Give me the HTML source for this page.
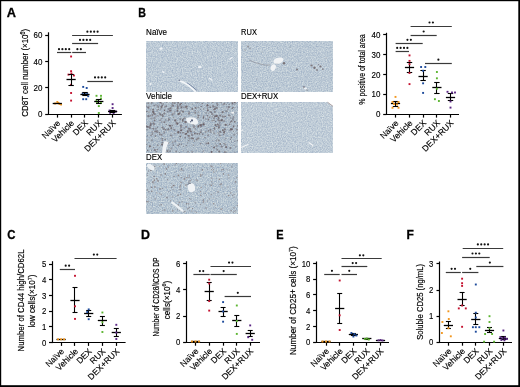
<!DOCTYPE html><html><head><meta charset="utf-8"><style>html,body{margin:0;padding:0;background:#fff;overflow:hidden}svg{display:block;will-change:transform}text{font-family:"Liberation Sans",sans-serif}</style></head><body><svg width="520" height="387" viewBox="0 0 520 387" font-family="Liberation Sans, sans-serif"><defs><filter id="tn" x="0" y="0" width="100%" height="100%" color-interpolation-filters="sRGB"><feTurbulence type="fractalNoise" baseFrequency="0.8" numOctaves="2" seed="3" result="n"/><feColorMatrix in="n" type="matrix" values="0.33 0 0 0 0.575  0.285 0 0 0 0.650  0.18 0 0 0 0.750  0 0 0 0 1" result="b0"/><feGaussianBlur in="b0" stdDeviation="0.55" result="base"/></filter><filter id="tr" x="0" y="0" width="100%" height="100%" color-interpolation-filters="sRGB"><feTurbulence type="fractalNoise" baseFrequency="0.8" numOctaves="2" seed="5" result="n"/><feColorMatrix in="n" type="matrix" values="0.33 0 0 0 0.570  0.285 0 0 0 0.645  0.18 0 0 0 0.745  0 0 0 0 1" result="b0"/><feGaussianBlur in="b0" stdDeviation="0.55" result="base"/></filter><filter id="tv" x="0" y="0" width="100%" height="100%" color-interpolation-filters="sRGB"><feTurbulence type="fractalNoise" baseFrequency="0.8" numOctaves="2" seed="7" result="n"/><feColorMatrix in="n" type="matrix" values="0.37400000000000005 0 0 0 0.498  0.323 0 0 0 0.579  0.20400000000000001 0 0 0 0.688  0 0 0 0 1" result="b0"/><feGaussianBlur in="b0" stdDeviation="0.55" result="base"/></filter><filter id="tdr" x="0" y="0" width="100%" height="100%" color-interpolation-filters="sRGB"><feTurbulence type="fractalNoise" baseFrequency="0.8" numOctaves="2" seed="9" result="n"/><feColorMatrix in="n" type="matrix" values="0.319 0 0 0 0.591  0.27549999999999997 0 0 0 0.662  0.174 0 0 0 0.758  0 0 0 0 1" result="b0"/><feGaussianBlur in="b0" stdDeviation="0.55" result="base"/></filter><filter id="td" x="0" y="0" width="100%" height="100%" color-interpolation-filters="sRGB"><feTurbulence type="fractalNoise" baseFrequency="0.8" numOctaves="2" seed="13" result="n"/><feColorMatrix in="n" type="matrix" values="0.396 0 0 0 0.517  0.34199999999999997 0 0 0 0.601  0.216 0 0 0 0.712  0 0 0 0 1" result="b0"/><feGaussianBlur in="b0" stdDeviation="0.55" result="base"/></filter></defs><rect width="520" height="387" fill="#fff"/><defs><filter id="sb" x="-50%" y="-50%" width="200%" height="200%"><feGaussianBlur stdDeviation="0.35"/></filter><filter id="sb2" x="-5%" y="-5%" width="110%" height="110%"><feGaussianBlur stdDeviation="0.45"/></filter></defs><rect x="146" y="41" width="92" height="51" fill="#b9c7d6" filter="url(#tn)"/><text x="146.1" y="35.4" font-size="8.5" text-anchor="start" font-weight="normal" fill="#000" stroke="#000" stroke-width="0.15" textLength="21" lengthAdjust="spacingAndGlyphs">Na&#239;ve</text><rect x="241" y="41" width="92" height="51" fill="#b7c5d4" filter="url(#tr)"/><text x="241.1" y="35.4" font-size="8.5" text-anchor="start" font-weight="normal" fill="#000" stroke="#000" stroke-width="0.15" textLength="15.8" lengthAdjust="spacingAndGlyphs">RUX</text><rect x="146" y="102" width="92" height="51" fill="#a4b1bf" filter="url(#tv)"/><text x="146.1" y="99.2" font-size="8.5" text-anchor="start" font-weight="normal" fill="#000" stroke="#000" stroke-width="0.15" textLength="26" lengthAdjust="spacingAndGlyphs">Vehicle</text><rect x="241" y="102" width="92" height="51" fill="#b9c8d8" filter="url(#tdr)"/><text x="241.1" y="99.2" font-size="8.5" text-anchor="start" font-weight="normal" fill="#000" stroke="#000" stroke-width="0.15" textLength="37" lengthAdjust="spacingAndGlyphs">DEX+RUX</text><rect x="146" y="163" width="92" height="51" fill="#b3c1d1" filter="url(#td)"/><text x="146.1" y="160.2" font-size="8.5" text-anchor="start" font-weight="normal" fill="#000" stroke="#000" stroke-width="0.15" textLength="16" lengthAdjust="spacingAndGlyphs">DEX</text><g fill="#eef2f6"><ellipse cx="161" cy="48.6" rx="1.6" ry="1.2" transform="rotate(0 161 48.6)"/><ellipse cx="199.8" cy="67" rx="1.8" ry="1.3" transform="rotate(0 199.8 67)"/><ellipse cx="163.3" cy="72" rx="1.4" ry="0.8" transform="rotate(30 163.3 72)"/><ellipse cx="150.5" cy="83.9" rx="1.2" ry="1" transform="rotate(0 150.5 83.9)"/><ellipse cx="231" cy="58.2" rx="2.2" ry="0.7" transform="rotate(-35 231 58.2)"/><ellipse cx="210.8" cy="79.3" rx="2.4" ry="0.7" transform="rotate(35 210.8 79.3)"/></g><path d="M187.5 83.2 Q192 86 197 90.5" fill="none" stroke="#5b6d92" stroke-width="1" opacity="0.75" filter="url(#sb)"/><path d="M179.8 80.8 Q185.5 82.8 188.8 85.6 Q192.3 88.6 195.4 91.6" fill="none" stroke="#f2f5f8" stroke-width="1.8" stroke-linecap="round"/><circle cx="179.5" cy="80.3" r="0.9" fill="#56617e" opacity="0.7" filter="url(#sb)"/><g fill="#6e6468" filter="url(#sb)"><circle cx="311.5" cy="65.5" r="1.1" opacity="0.8"/><circle cx="314.5" cy="67.8" r="1.2" opacity="0.85"/><circle cx="317" cy="70" r="0.9" opacity="0.7"/><circle cx="320.5" cy="66.5" r="1.1" opacity="0.8"/><circle cx="322.8" cy="69.2" r="0.9" opacity="0.6"/><circle cx="318.5" cy="64.5" r="0.7" opacity="0.5"/><circle cx="297" cy="69.5" r="1.0" opacity="0.75"/><circle cx="248" cy="46.5" r="0.9" opacity="0.6"/><circle cx="250" cy="48.5" r="0.8" opacity="0.5"/><circle cx="245" cy="50" r="0.7" opacity="0.5"/><circle cx="284" cy="63.2" r="1.2" opacity="0.85"/><circle cx="277" cy="63.5" r="0.8" opacity="0.6"/><circle cx="304" cy="87" r="0.9" opacity="0.7"/><circle cx="307" cy="90" r="0.7" opacity="0.6"/><circle cx="262" cy="52" r="0.5" opacity="0.5"/><circle cx="290" cy="47" r="0.5" opacity="0.5"/><circle cx="326" cy="58" r="0.5" opacity="0.4"/><circle cx="257" cy="79" r="0.5" opacity="0.4"/></g><path d="M249 60 Q255 63 262 64.5 Q266 65.5 270 65" fill="none" stroke="#7a7478" stroke-width="0.7" opacity="0.6" filter="url(#sb)"/><ellipse cx="278.4" cy="60.6" rx="5.2" ry="3.0" transform="rotate(-15 278.4 60.6)" fill="#f1f3f5"/><ellipse cx="273.2" cy="67.6" rx="2.5" ry="3.4" transform="rotate(25 273.2 67.6)" fill="#f1f3f5"/><ellipse cx="305.5" cy="88.5" rx="1.6" ry="1.1" fill="#eef1f4"/><defs><clipPath id="cv"><rect x="146" y="102" width="92" height="51"/></clipPath></defs><g fill="#62555a" filter="url(#sb2)" clip-path="url(#cv)"><circle cx="167.9" cy="129.8" r="0.87" opacity="0.58"/><circle cx="152.0" cy="102.7" r="0.63" opacity="0.41"/><circle cx="237.6" cy="126.0" r="0.78" opacity="0.59"/><circle cx="159.9" cy="134.4" r="0.82" opacity="0.63"/><circle cx="207.8" cy="105.3" r="0.86" opacity="0.44"/><circle cx="230.7" cy="122.1" r="0.76" opacity="0.72"/><circle cx="226.9" cy="107.0" r="0.60" opacity="0.73"/><circle cx="186.1" cy="134.0" r="0.81" opacity="0.47"/><circle cx="178.3" cy="131.8" r="1.08" opacity="0.61"/><circle cx="207.8" cy="110.3" r="1.13" opacity="0.71"/><circle cx="198.4" cy="138.4" r="1.03" opacity="0.56"/><circle cx="172.2" cy="105.2" r="1.14" opacity="0.34"/><circle cx="219.7" cy="122.9" r="0.66" opacity="0.65"/><circle cx="226.3" cy="104.3" r="0.48" opacity="0.62"/><circle cx="192.5" cy="152.9" r="0.50" opacity="0.57"/><circle cx="148.9" cy="112.1" r="0.88" opacity="0.37"/><circle cx="149.9" cy="146.3" r="1.12" opacity="0.70"/><circle cx="180.8" cy="125.5" r="0.90" opacity="0.57"/><circle cx="197.5" cy="133.6" r="0.80" opacity="0.49"/><circle cx="212.3" cy="114.1" r="1.13" opacity="0.53"/><circle cx="196.5" cy="102.6" r="0.86" opacity="0.31"/><circle cx="202.7" cy="134.2" r="0.89" opacity="0.51"/><circle cx="208.5" cy="120.0" r="0.97" opacity="0.31"/><circle cx="169.1" cy="125.3" r="0.67" opacity="0.46"/><circle cx="174.8" cy="120.8" r="0.66" opacity="0.47"/><circle cx="217.0" cy="103.4" r="0.96" opacity="0.44"/><circle cx="166.5" cy="143.0" r="0.58" opacity="0.50"/><circle cx="210.2" cy="107.2" r="0.68" opacity="0.68"/><circle cx="186.3" cy="145.6" r="0.69" opacity="0.59"/><circle cx="227.4" cy="125.0" r="0.53" opacity="0.54"/><circle cx="162.9" cy="116.2" r="0.90" opacity="0.66"/><circle cx="177.8" cy="108.6" r="1.01" opacity="0.42"/><circle cx="177.9" cy="123.3" r="0.74" opacity="0.71"/><circle cx="160.4" cy="102.2" r="1.07" opacity="0.74"/><circle cx="207.0" cy="128.5" r="0.69" opacity="0.40"/><circle cx="152.3" cy="132.0" r="1.02" opacity="0.32"/><circle cx="147.2" cy="140.0" r="0.66" opacity="0.60"/><circle cx="194.3" cy="123.1" r="0.88" opacity="0.45"/><circle cx="218.0" cy="119.9" r="0.82" opacity="0.67"/><circle cx="220.2" cy="144.0" r="0.89" opacity="0.69"/><circle cx="150.6" cy="115.8" r="0.82" opacity="0.49"/><circle cx="189.5" cy="141.6" r="0.49" opacity="0.36"/><circle cx="157.5" cy="105.5" r="1.05" opacity="0.34"/><circle cx="192.2" cy="118.1" r="0.70" opacity="0.59"/><circle cx="200.0" cy="120.4" r="0.68" opacity="0.36"/><circle cx="197.1" cy="138.5" r="0.51" opacity="0.38"/><circle cx="180.3" cy="132.8" r="0.72" opacity="0.66"/><circle cx="203.3" cy="124.0" r="0.80" opacity="0.62"/><circle cx="168.5" cy="129.3" r="0.50" opacity="0.49"/><circle cx="170.1" cy="125.7" r="1.02" opacity="0.60"/><circle cx="213.5" cy="130.8" r="0.86" opacity="0.30"/><circle cx="159.2" cy="141.5" r="0.51" opacity="0.34"/><circle cx="227.0" cy="111.1" r="1.04" opacity="0.35"/><circle cx="233.6" cy="131.5" r="0.48" opacity="0.65"/><circle cx="193.0" cy="138.5" r="0.97" opacity="0.72"/><circle cx="151.6" cy="118.5" r="1.03" opacity="0.41"/><circle cx="162.5" cy="114.7" r="0.98" opacity="0.48"/><circle cx="179.8" cy="122.2" r="0.74" opacity="0.34"/><circle cx="192.0" cy="151.6" r="0.97" opacity="0.37"/><circle cx="193.6" cy="126.7" r="1.08" opacity="0.37"/><circle cx="193.6" cy="124.6" r="0.58" opacity="0.42"/><circle cx="164.3" cy="131.9" r="0.61" opacity="0.61"/><circle cx="233.7" cy="117.1" r="0.74" opacity="0.68"/><circle cx="199.8" cy="115.6" r="0.47" opacity="0.52"/><circle cx="181.2" cy="110.8" r="0.68" opacity="0.65"/><circle cx="201.1" cy="125.9" r="1.03" opacity="0.55"/><circle cx="189.0" cy="113.7" r="0.95" opacity="0.60"/><circle cx="234.2" cy="145.5" r="0.58" opacity="0.42"/><circle cx="228.8" cy="115.0" r="0.67" opacity="0.49"/><circle cx="213.1" cy="106.4" r="1.03" opacity="0.43"/><circle cx="178.8" cy="131.6" r="0.45" opacity="0.45"/><circle cx="186.1" cy="126.8" r="0.86" opacity="0.73"/><circle cx="182.0" cy="129.8" r="0.64" opacity="0.60"/><circle cx="154.9" cy="150.0" r="0.99" opacity="0.64"/><circle cx="220.2" cy="115.5" r="1.12" opacity="0.60"/><circle cx="195.3" cy="107.8" r="0.70" opacity="0.62"/><circle cx="208.4" cy="130.9" r="0.90" opacity="0.58"/><circle cx="157.3" cy="149.5" r="0.68" opacity="0.62"/><circle cx="201.0" cy="130.3" r="0.77" opacity="0.44"/><circle cx="162.2" cy="105.5" r="0.98" opacity="0.54"/><circle cx="214.0" cy="120.3" r="0.72" opacity="0.69"/><circle cx="149.9" cy="127.7" r="0.99" opacity="0.46"/><circle cx="176.6" cy="122.6" r="0.99" opacity="0.46"/><circle cx="223.9" cy="107.7" r="0.52" opacity="0.35"/><circle cx="217.7" cy="139.1" r="0.58" opacity="0.49"/><circle cx="200.5" cy="109.5" r="0.59" opacity="0.54"/><circle cx="198.3" cy="112.3" r="1.00" opacity="0.31"/><circle cx="181.2" cy="130.2" r="0.89" opacity="0.74"/><circle cx="209.2" cy="117.3" r="0.79" opacity="0.57"/><circle cx="212.9" cy="102.1" r="0.91" opacity="0.52"/><circle cx="194.2" cy="125.5" r="0.82" opacity="0.32"/><circle cx="192.0" cy="134.9" r="0.85" opacity="0.73"/><circle cx="228.1" cy="108.9" r="0.89" opacity="0.32"/><circle cx="179.1" cy="113.9" r="0.83" opacity="0.72"/><circle cx="225.3" cy="124.3" r="0.79" opacity="0.35"/><circle cx="149.9" cy="106.0" r="0.56" opacity="0.52"/><circle cx="210.3" cy="129.4" r="0.90" opacity="0.44"/><circle cx="188.7" cy="140.6" r="0.58" opacity="0.70"/><circle cx="212.2" cy="120.7" r="0.82" opacity="0.57"/><circle cx="166.6" cy="102.1" r="1.00" opacity="0.36"/><circle cx="188.3" cy="112.0" r="0.57" opacity="0.48"/><circle cx="161.5" cy="103.4" r="0.57" opacity="0.52"/><circle cx="151.5" cy="103.1" r="0.74" opacity="0.62"/><circle cx="150.7" cy="122.6" r="0.47" opacity="0.73"/><circle cx="166.1" cy="106.8" r="0.57" opacity="0.58"/><circle cx="177.9" cy="108.3" r="0.96" opacity="0.42"/><circle cx="218.5" cy="125.7" r="0.66" opacity="0.41"/><circle cx="177.7" cy="106.8" r="1.13" opacity="0.57"/><circle cx="146.3" cy="103.5" r="0.57" opacity="0.32"/><circle cx="151.0" cy="135.4" r="0.59" opacity="0.74"/><circle cx="232.5" cy="103.7" r="0.87" opacity="0.73"/><circle cx="154.1" cy="117.0" r="0.53" opacity="0.48"/><circle cx="222.9" cy="130.2" r="0.70" opacity="0.49"/><circle cx="170.8" cy="110.7" r="0.87" opacity="0.62"/><circle cx="181.6" cy="126.8" r="0.95" opacity="0.31"/><circle cx="154.9" cy="114.1" r="0.90" opacity="0.70"/><circle cx="226.2" cy="124.9" r="0.96" opacity="0.45"/><circle cx="180.0" cy="105.7" r="1.12" opacity="0.35"/><circle cx="198.3" cy="107.6" r="0.90" opacity="0.41"/><circle cx="150.5" cy="109.8" r="0.86" opacity="0.31"/><circle cx="167.2" cy="151.3" r="0.84" opacity="0.49"/><circle cx="217.9" cy="132.8" r="0.82" opacity="0.38"/><circle cx="162.3" cy="106.0" r="0.53" opacity="0.31"/><circle cx="234.9" cy="112.2" r="0.51" opacity="0.51"/><circle cx="177.8" cy="132.8" r="0.53" opacity="0.68"/><circle cx="200.7" cy="143.6" r="0.83" opacity="0.51"/><circle cx="213.0" cy="105.9" r="0.79" opacity="0.33"/><circle cx="196.8" cy="139.5" r="0.90" opacity="0.57"/><circle cx="165.7" cy="119.9" r="0.68" opacity="0.49"/><circle cx="153.7" cy="113.1" r="1.10" opacity="0.63"/><circle cx="231.7" cy="129.3" r="1.11" opacity="0.71"/><circle cx="233.4" cy="126.7" r="0.73" opacity="0.75"/><circle cx="230.7" cy="116.9" r="0.58" opacity="0.34"/><circle cx="212.5" cy="117.0" r="0.90" opacity="0.32"/><circle cx="214.6" cy="116.1" r="0.69" opacity="0.63"/><circle cx="214.7" cy="116.7" r="0.66" opacity="0.48"/><circle cx="153.1" cy="109.8" r="0.94" opacity="0.74"/><circle cx="236.1" cy="146.7" r="0.56" opacity="0.44"/><circle cx="188.6" cy="128.8" r="0.70" opacity="0.68"/><circle cx="172.2" cy="125.6" r="1.01" opacity="0.43"/><circle cx="168.3" cy="143.1" r="0.54" opacity="0.54"/><circle cx="195.3" cy="110.5" r="0.59" opacity="0.65"/><circle cx="236.1" cy="103.8" r="0.46" opacity="0.49"/><circle cx="177.1" cy="104.6" r="0.52" opacity="0.44"/><circle cx="168.7" cy="142.9" r="0.63" opacity="0.32"/><circle cx="185.5" cy="134.0" r="1.09" opacity="0.66"/><circle cx="168.8" cy="108.9" r="1.00" opacity="0.53"/><circle cx="222.5" cy="130.1" r="0.57" opacity="0.31"/><circle cx="189.0" cy="135.9" r="1.02" opacity="0.57"/><circle cx="184.1" cy="128.4" r="0.58" opacity="0.61"/><circle cx="237.3" cy="129.9" r="0.70" opacity="0.50"/><circle cx="219.9" cy="125.1" r="0.56" opacity="0.44"/><circle cx="194.0" cy="123.0" r="1.03" opacity="0.72"/><circle cx="202.3" cy="103.6" r="0.83" opacity="0.52"/><circle cx="155.4" cy="136.1" r="0.81" opacity="0.70"/><circle cx="234.3" cy="134.8" r="1.09" opacity="0.38"/><circle cx="181.3" cy="144.2" r="0.64" opacity="0.73"/><circle cx="232.8" cy="118.2" r="0.65" opacity="0.36"/><circle cx="169.0" cy="152.0" r="0.61" opacity="0.39"/><circle cx="153.3" cy="128.8" r="1.04" opacity="0.58"/><circle cx="221.2" cy="102.3" r="1.12" opacity="0.33"/><circle cx="170.6" cy="126.6" r="0.83" opacity="0.32"/><circle cx="167.7" cy="150.8" r="1.08" opacity="0.38"/><circle cx="159.1" cy="104.8" r="0.57" opacity="0.39"/><circle cx="221.7" cy="146.6" r="1.12" opacity="0.54"/><circle cx="181.2" cy="107.5" r="1.14" opacity="0.43"/><circle cx="158.1" cy="109.4" r="0.70" opacity="0.71"/><circle cx="153.1" cy="111.8" r="1.15" opacity="0.74"/><circle cx="168.6" cy="120.1" r="0.79" opacity="0.62"/><circle cx="174.8" cy="103.1" r="0.97" opacity="0.65"/><circle cx="198.3" cy="125.7" r="0.76" opacity="0.54"/><circle cx="222.6" cy="112.2" r="1.10" opacity="0.68"/><circle cx="161.4" cy="115.6" r="0.49" opacity="0.74"/><circle cx="183.7" cy="146.5" r="0.46" opacity="0.69"/><circle cx="194.3" cy="141.1" r="0.83" opacity="0.50"/><circle cx="159.5" cy="132.6" r="0.80" opacity="0.47"/><circle cx="175.3" cy="120.3" r="1.14" opacity="0.72"/><circle cx="225.3" cy="144.6" r="1.13" opacity="0.42"/><circle cx="157.3" cy="127.5" r="0.69" opacity="0.59"/><circle cx="190.0" cy="129.1" r="1.14" opacity="0.54"/><circle cx="186.6" cy="133.5" r="0.75" opacity="0.68"/><circle cx="217.5" cy="105.0" r="0.72" opacity="0.74"/><circle cx="179.7" cy="112.9" r="1.07" opacity="0.49"/><circle cx="225.8" cy="138.3" r="0.66" opacity="0.53"/><circle cx="182.7" cy="121.0" r="1.06" opacity="0.56"/><circle cx="159.5" cy="113.2" r="0.88" opacity="0.36"/><circle cx="153.5" cy="118.4" r="0.47" opacity="0.54"/><circle cx="230.8" cy="129.3" r="1.03" opacity="0.68"/><circle cx="230.0" cy="124.5" r="0.53" opacity="0.70"/><circle cx="180.8" cy="126.2" r="0.65" opacity="0.39"/><circle cx="221.8" cy="132.5" r="0.47" opacity="0.46"/><circle cx="146.7" cy="144.5" r="0.64" opacity="0.47"/><circle cx="193.1" cy="124.0" r="0.91" opacity="0.50"/><circle cx="153.7" cy="124.5" r="1.14" opacity="0.33"/><circle cx="146.9" cy="126.5" r="1.08" opacity="0.67"/><circle cx="176.5" cy="123.4" r="1.07" opacity="0.39"/><circle cx="182.1" cy="106.5" r="0.47" opacity="0.72"/><circle cx="194.2" cy="131.3" r="0.61" opacity="0.51"/><circle cx="224.9" cy="129.5" r="1.14" opacity="0.60"/><circle cx="194.6" cy="112.3" r="1.08" opacity="0.36"/><circle cx="194.9" cy="133.6" r="0.99" opacity="0.71"/><circle cx="224.9" cy="139.6" r="0.49" opacity="0.49"/><circle cx="174.7" cy="111.9" r="0.60" opacity="0.67"/><circle cx="232.3" cy="108.1" r="0.73" opacity="0.40"/><circle cx="163.2" cy="103.9" r="0.72" opacity="0.68"/><circle cx="222.6" cy="104.9" r="0.72" opacity="0.38"/><circle cx="169.1" cy="115.4" r="0.69" opacity="0.35"/><circle cx="166.3" cy="124.6" r="0.62" opacity="0.61"/><circle cx="162.2" cy="140.3" r="0.83" opacity="0.57"/><circle cx="203.8" cy="124.6" r="1.00" opacity="0.69"/><circle cx="191.1" cy="131.5" r="1.08" opacity="0.61"/><circle cx="162.4" cy="138.6" r="0.96" opacity="0.56"/><circle cx="155.9" cy="128.9" r="0.78" opacity="0.54"/><circle cx="225.4" cy="124.8" r="0.86" opacity="0.67"/><circle cx="164.7" cy="106.8" r="0.84" opacity="0.44"/><circle cx="172.8" cy="102.6" r="0.96" opacity="0.46"/><circle cx="190.0" cy="130.9" r="0.94" opacity="0.55"/><circle cx="181.5" cy="107.6" r="0.67" opacity="0.63"/><circle cx="161.9" cy="122.1" r="0.74" opacity="0.56"/><circle cx="155.8" cy="104.8" r="0.59" opacity="0.53"/><circle cx="161.4" cy="107.1" r="1.10" opacity="0.69"/><circle cx="193.4" cy="122.3" r="0.64" opacity="0.44"/><circle cx="232.6" cy="108.0" r="0.78" opacity="0.50"/><circle cx="170.1" cy="151.1" r="0.85" opacity="0.53"/><circle cx="164.4" cy="113.4" r="1.00" opacity="0.63"/><circle cx="229.1" cy="107.0" r="0.98" opacity="0.40"/><circle cx="188.0" cy="151.7" r="0.98" opacity="0.37"/><circle cx="207.4" cy="115.7" r="0.71" opacity="0.69"/><circle cx="214.5" cy="127.7" r="0.75" opacity="0.66"/><circle cx="169.7" cy="129.8" r="0.72" opacity="0.32"/><circle cx="161.6" cy="134.7" r="0.98" opacity="0.53"/><circle cx="180.3" cy="104.2" r="0.97" opacity="0.71"/><circle cx="164.6" cy="110.1" r="0.97" opacity="0.52"/><circle cx="213.9" cy="109.6" r="0.92" opacity="0.57"/><circle cx="160.8" cy="109.0" r="1.07" opacity="0.36"/><circle cx="146.7" cy="106.2" r="0.72" opacity="0.51"/><circle cx="237.5" cy="133.2" r="0.94" opacity="0.30"/><circle cx="171.9" cy="137.6" r="0.47" opacity="0.53"/><circle cx="176.2" cy="151.5" r="1.01" opacity="0.47"/><circle cx="220.1" cy="124.7" r="0.68" opacity="0.40"/><circle cx="187.6" cy="142.8" r="0.61" opacity="0.49"/><circle cx="154.8" cy="118.1" r="0.83" opacity="0.57"/><circle cx="172.7" cy="103.3" r="0.69" opacity="0.39"/><circle cx="198.3" cy="115.5" r="0.87" opacity="0.60"/><circle cx="213.7" cy="128.6" r="0.67" opacity="0.33"/><circle cx="219.1" cy="127.5" r="1.10" opacity="0.56"/><circle cx="203.4" cy="124.4" r="1.15" opacity="0.38"/><circle cx="179.7" cy="153.0" r="0.80" opacity="0.52"/><circle cx="168.8" cy="149.2" r="0.46" opacity="0.51"/><circle cx="229.3" cy="104.4" r="0.66" opacity="0.51"/><circle cx="173.6" cy="117.6" r="0.89" opacity="0.34"/><circle cx="234.7" cy="104.2" r="0.58" opacity="0.34"/><circle cx="214.5" cy="129.1" r="0.81" opacity="0.58"/><circle cx="234.5" cy="102.3" r="0.92" opacity="0.72"/><circle cx="182.0" cy="125.7" r="0.47" opacity="0.44"/><circle cx="213.9" cy="115.2" r="0.63" opacity="0.46"/><circle cx="189.9" cy="112.3" r="0.49" opacity="0.41"/><circle cx="199.8" cy="133.2" r="0.58" opacity="0.34"/><circle cx="162.4" cy="127.6" r="1.07" opacity="0.55"/><circle cx="177.3" cy="124.0" r="0.96" opacity="0.64"/><circle cx="179.5" cy="139.0" r="0.60" opacity="0.40"/><circle cx="164.1" cy="132.9" r="0.96" opacity="0.35"/><circle cx="216.5" cy="126.4" r="0.80" opacity="0.49"/><circle cx="164.4" cy="122.1" r="0.95" opacity="0.71"/><circle cx="211.6" cy="152.0" r="0.99" opacity="0.70"/><circle cx="157.2" cy="132.3" r="0.66" opacity="0.68"/><circle cx="229.4" cy="124.2" r="0.60" opacity="0.67"/><circle cx="184.8" cy="118.1" r="1.10" opacity="0.41"/><circle cx="147.7" cy="150.4" r="0.72" opacity="0.74"/><circle cx="171.9" cy="106.4" r="0.62" opacity="0.40"/><circle cx="232.3" cy="113.7" r="0.68" opacity="0.44"/><circle cx="165.9" cy="129.7" r="0.73" opacity="0.53"/><circle cx="215.3" cy="143.8" r="0.63" opacity="0.39"/><circle cx="230.1" cy="130.4" r="0.75" opacity="0.33"/><circle cx="229.2" cy="115.5" r="1.11" opacity="0.39"/><circle cx="230.9" cy="117.9" r="0.52" opacity="0.70"/><circle cx="182.7" cy="119.6" r="0.87" opacity="0.41"/><circle cx="157.4" cy="131.3" r="1.06" opacity="0.45"/><circle cx="161.6" cy="118.7" r="0.67" opacity="0.54"/><circle cx="183.4" cy="119.0" r="0.79" opacity="0.65"/><circle cx="157.1" cy="110.7" r="0.79" opacity="0.47"/><circle cx="193.4" cy="145.2" r="0.70" opacity="0.46"/><circle cx="147.0" cy="129.8" r="0.80" opacity="0.50"/><circle cx="189.5" cy="138.5" r="1.14" opacity="0.35"/><circle cx="225.7" cy="110.9" r="0.63" opacity="0.34"/><circle cx="226.7" cy="152.0" r="0.72" opacity="0.35"/><circle cx="215.5" cy="125.0" r="1.01" opacity="0.75"/><circle cx="153.4" cy="147.4" r="0.51" opacity="0.67"/><circle cx="171.8" cy="135.8" r="0.60" opacity="0.62"/><circle cx="149.5" cy="128.0" r="0.60" opacity="0.62"/><circle cx="214.4" cy="133.6" r="0.94" opacity="0.31"/><circle cx="163.6" cy="129.4" r="0.60" opacity="0.56"/><circle cx="157.8" cy="145.2" r="0.82" opacity="0.60"/><circle cx="225.1" cy="116.4" r="0.57" opacity="0.70"/><circle cx="186.3" cy="121.9" r="0.94" opacity="0.44"/><circle cx="173.2" cy="105.8" r="0.96" opacity="0.57"/><circle cx="183.2" cy="150.9" r="0.60" opacity="0.35"/><circle cx="178.3" cy="132.6" r="1.11" opacity="0.59"/><circle cx="188.2" cy="135.7" r="0.88" opacity="0.52"/><circle cx="194.1" cy="127.1" r="0.58" opacity="0.65"/><circle cx="173.4" cy="145.3" r="0.79" opacity="0.50"/><circle cx="211.5" cy="112.3" r="0.54" opacity="0.55"/><circle cx="199.0" cy="102.0" r="0.59" opacity="0.73"/><circle cx="187.9" cy="130.8" r="0.91" opacity="0.67"/><circle cx="207.8" cy="102.1" r="0.79" opacity="0.32"/><circle cx="218.7" cy="118.3" r="0.89" opacity="0.56"/><circle cx="177.6" cy="105.3" r="0.70" opacity="0.54"/><circle cx="178.0" cy="102.4" r="0.56" opacity="0.34"/><circle cx="224.3" cy="131.6" r="0.95" opacity="0.59"/><circle cx="151.7" cy="140.3" r="1.15" opacity="0.36"/><circle cx="172.3" cy="114.7" r="1.02" opacity="0.56"/><circle cx="159.7" cy="123.9" r="0.49" opacity="0.71"/><circle cx="202.8" cy="151.7" r="0.66" opacity="0.36"/><circle cx="162.6" cy="142.7" r="0.97" opacity="0.48"/><circle cx="223.7" cy="104.2" r="0.71" opacity="0.49"/><circle cx="231.4" cy="137.5" r="0.81" opacity="0.64"/><circle cx="221.0" cy="120.9" r="0.88" opacity="0.40"/><circle cx="227.2" cy="102.0" r="0.79" opacity="0.39"/><circle cx="198.5" cy="126.2" r="1.07" opacity="0.56"/><circle cx="226.2" cy="147.1" r="1.03" opacity="0.68"/><circle cx="237.2" cy="140.7" r="0.59" opacity="0.59"/><circle cx="222.0" cy="120.2" r="1.08" opacity="0.60"/><circle cx="180.8" cy="130.6" r="0.90" opacity="0.53"/><circle cx="215.8" cy="116.2" r="0.96" opacity="0.67"/><circle cx="206.1" cy="112.9" r="0.82" opacity="0.47"/><circle cx="200.2" cy="124.9" r="0.98" opacity="0.74"/><circle cx="156.2" cy="131.1" r="0.91" opacity="0.56"/><circle cx="224.5" cy="103.6" r="0.89" opacity="0.56"/><circle cx="174.6" cy="133.6" r="0.82" opacity="0.42"/><circle cx="215.5" cy="121.6" r="0.56" opacity="0.69"/><circle cx="216.3" cy="140.8" r="1.02" opacity="0.31"/><circle cx="198.0" cy="126.9" r="0.75" opacity="0.70"/><circle cx="203.4" cy="118.0" r="0.70" opacity="0.70"/><circle cx="182.9" cy="106.0" r="0.50" opacity="0.41"/><circle cx="216.9" cy="107.9" r="1.05" opacity="0.57"/><circle cx="199.3" cy="134.0" r="0.74" opacity="0.75"/><circle cx="235.4" cy="102.1" r="0.61" opacity="0.66"/><circle cx="164.5" cy="110.6" r="0.57" opacity="0.74"/><circle cx="165.1" cy="142.1" r="0.61" opacity="0.32"/><circle cx="210.7" cy="130.6" r="1.03" opacity="0.39"/><circle cx="186.9" cy="106.5" r="1.07" opacity="0.53"/><circle cx="160.1" cy="114.1" r="0.64" opacity="0.70"/><circle cx="221.6" cy="120.1" r="0.57" opacity="0.58"/><circle cx="148.4" cy="107.6" r="1.06" opacity="0.69"/><circle cx="223.0" cy="130.3" r="0.94" opacity="0.55"/><circle cx="185.2" cy="103.2" r="0.62" opacity="0.51"/><circle cx="214.1" cy="147.5" r="1.07" opacity="0.73"/><circle cx="170.6" cy="108.4" r="1.07" opacity="0.66"/><circle cx="183.6" cy="132.7" r="0.61" opacity="0.49"/><circle cx="214.5" cy="106.5" r="0.47" opacity="0.74"/><circle cx="233.8" cy="126.0" r="0.65" opacity="0.67"/><circle cx="151.7" cy="150.0" r="0.50" opacity="0.42"/><circle cx="148.5" cy="116.3" r="1.14" opacity="0.58"/><circle cx="181.4" cy="114.8" r="0.83" opacity="0.39"/><circle cx="214.1" cy="118.3" r="0.83" opacity="0.58"/><circle cx="160.3" cy="115.1" r="0.60" opacity="0.60"/><circle cx="234.8" cy="121.8" r="0.88" opacity="0.72"/><circle cx="164.0" cy="128.4" r="0.77" opacity="0.60"/><circle cx="232.3" cy="102.1" r="1.13" opacity="0.47"/><circle cx="210.9" cy="132.2" r="0.76" opacity="0.55"/><circle cx="236.6" cy="129.2" r="0.66" opacity="0.62"/><circle cx="169.9" cy="125.7" r="0.61" opacity="0.68"/><circle cx="211.4" cy="146.2" r="0.53" opacity="0.47"/><circle cx="191.6" cy="138.3" r="0.97" opacity="0.56"/><circle cx="172.6" cy="142.2" r="0.86" opacity="0.38"/><circle cx="149.9" cy="126.4" r="0.88" opacity="0.47"/><circle cx="231.5" cy="142.0" r="0.45" opacity="0.73"/><circle cx="183.8" cy="107.4" r="0.94" opacity="0.38"/><circle cx="180.3" cy="136.5" r="0.91" opacity="0.73"/><circle cx="219.0" cy="134.0" r="0.67" opacity="0.59"/><circle cx="205.7" cy="131.9" r="0.98" opacity="0.39"/><circle cx="211.6" cy="151.9" r="0.63" opacity="0.74"/><circle cx="152.4" cy="134.1" r="1.04" opacity="0.44"/><circle cx="231.0" cy="147.8" r="0.73" opacity="0.37"/><circle cx="215.7" cy="106.9" r="0.53" opacity="0.69"/><circle cx="168.7" cy="118.5" r="0.84" opacity="0.49"/><circle cx="233.1" cy="119.4" r="1.05" opacity="0.41"/><circle cx="162.0" cy="144.6" r="1.07" opacity="0.67"/><circle cx="180.3" cy="119.0" r="1.06" opacity="0.50"/><circle cx="177.5" cy="111.0" r="1.06" opacity="0.36"/><circle cx="197.0" cy="133.9" r="0.80" opacity="0.48"/><circle cx="197.9" cy="114.8" r="0.59" opacity="0.38"/><circle cx="156.1" cy="151.9" r="0.69" opacity="0.74"/><circle cx="218.9" cy="140.5" r="1.05" opacity="0.48"/><circle cx="150.4" cy="125.2" r="0.68" opacity="0.44"/><circle cx="217.7" cy="124.5" r="1.05" opacity="0.69"/><circle cx="211.0" cy="111.9" r="0.86" opacity="0.52"/><circle cx="198.1" cy="117.6" r="1.09" opacity="0.47"/><circle cx="208.2" cy="119.3" r="0.68" opacity="0.68"/><circle cx="171.2" cy="148.5" r="1.08" opacity="0.38"/><circle cx="186.8" cy="108.6" r="0.82" opacity="0.46"/><circle cx="195.5" cy="113.0" r="0.68" opacity="0.70"/><circle cx="153.4" cy="123.2" r="0.85" opacity="0.42"/><circle cx="237.7" cy="107.5" r="0.46" opacity="0.50"/><circle cx="225.0" cy="116.4" r="1.01" opacity="0.33"/><circle cx="147.6" cy="135.8" r="0.82" opacity="0.37"/><circle cx="171.1" cy="133.8" r="0.49" opacity="0.41"/><circle cx="180.7" cy="127.8" r="0.91" opacity="0.41"/><circle cx="229.2" cy="119.9" r="0.50" opacity="0.36"/><circle cx="165.8" cy="147.0" r="0.76" opacity="0.73"/><circle cx="234.9" cy="141.1" r="0.68" opacity="0.53"/><circle cx="169.7" cy="119.7" r="0.62" opacity="0.64"/><circle cx="201.5" cy="124.7" r="0.88" opacity="0.61"/><circle cx="178.2" cy="103.2" r="0.76" opacity="0.47"/><circle cx="155.0" cy="131.4" r="0.98" opacity="0.54"/><circle cx="172.9" cy="144.1" r="0.51" opacity="0.43"/><circle cx="150.8" cy="123.9" r="1.11" opacity="0.59"/><circle cx="160.2" cy="114.2" r="0.71" opacity="0.59"/><circle cx="148.0" cy="127.0" r="0.91" opacity="0.67"/><circle cx="182.5" cy="132.7" r="0.77" opacity="0.59"/><circle cx="150.8" cy="128.2" r="0.58" opacity="0.41"/><circle cx="221.8" cy="119.8" r="0.65" opacity="0.53"/><circle cx="182.7" cy="119.9" r="0.60" opacity="0.53"/><circle cx="201.2" cy="106.5" r="0.67" opacity="0.74"/><circle cx="232.3" cy="108.7" r="0.69" opacity="0.35"/><circle cx="208.2" cy="135.3" r="1.05" opacity="0.44"/><circle cx="165.1" cy="129.8" r="0.70" opacity="0.69"/><circle cx="210.0" cy="112.0" r="0.54" opacity="0.71"/><circle cx="203.6" cy="116.1" r="0.87" opacity="0.51"/><circle cx="210.1" cy="107.0" r="0.75" opacity="0.50"/><circle cx="213.9" cy="132.9" r="0.65" opacity="0.51"/><circle cx="148.9" cy="115.1" r="0.53" opacity="0.34"/><circle cx="224.0" cy="121.1" r="0.86" opacity="0.62"/><circle cx="175.3" cy="141.3" r="1.04" opacity="0.44"/><circle cx="203.5" cy="117.5" r="0.71" opacity="0.57"/><circle cx="167.8" cy="111.7" r="1.12" opacity="0.36"/><circle cx="217.3" cy="149.4" r="1.00" opacity="0.43"/><circle cx="218.4" cy="127.9" r="0.54" opacity="0.59"/><circle cx="210.4" cy="116.8" r="0.51" opacity="0.42"/><circle cx="215.0" cy="108.8" r="1.11" opacity="0.68"/><circle cx="216.2" cy="148.7" r="0.47" opacity="0.44"/><circle cx="147.2" cy="115.9" r="0.64" opacity="0.41"/><circle cx="154.7" cy="120.3" r="0.86" opacity="0.72"/><circle cx="152.5" cy="115.0" r="1.10" opacity="0.58"/><circle cx="206.4" cy="143.5" r="1.08" opacity="0.45"/><circle cx="203.8" cy="122.6" r="0.66" opacity="0.42"/><circle cx="160.3" cy="120.1" r="0.71" opacity="0.57"/><circle cx="223.6" cy="134.6" r="0.66" opacity="0.69"/><circle cx="232.5" cy="129.0" r="0.51" opacity="0.64"/><circle cx="195.7" cy="107.9" r="1.15" opacity="0.39"/><circle cx="178.3" cy="114.1" r="1.10" opacity="0.69"/><circle cx="180.5" cy="140.5" r="0.59" opacity="0.30"/><circle cx="212.7" cy="140.4" r="0.49" opacity="0.44"/><circle cx="165.2" cy="139.3" r="0.86" opacity="0.55"/><circle cx="178.1" cy="145.6" r="0.81" opacity="0.60"/><circle cx="183.2" cy="111.5" r="0.98" opacity="0.55"/><circle cx="191.6" cy="133.5" r="0.50" opacity="0.55"/><circle cx="228.8" cy="107.0" r="0.71" opacity="0.75"/><circle cx="216.8" cy="115.9" r="1.07" opacity="0.74"/><circle cx="220.1" cy="131.8" r="1.00" opacity="0.67"/><circle cx="222.8" cy="116.7" r="1.12" opacity="0.56"/><circle cx="146.9" cy="111.6" r="0.75" opacity="0.71"/><circle cx="205.0" cy="137.7" r="0.82" opacity="0.62"/><circle cx="230.3" cy="148.0" r="0.80" opacity="0.74"/><circle cx="154.3" cy="105.6" r="0.96" opacity="0.45"/><circle cx="156.0" cy="116.5" r="0.69" opacity="0.51"/><circle cx="189.3" cy="127.9" r="0.59" opacity="0.37"/><circle cx="195.4" cy="128.8" r="0.89" opacity="0.35"/><circle cx="181.5" cy="103.4" r="0.55" opacity="0.72"/><circle cx="179.3" cy="144.3" r="0.68" opacity="0.68"/><circle cx="171.3" cy="128.3" r="1.15" opacity="0.62"/><circle cx="150.7" cy="125.3" r="1.05" opacity="0.47"/><circle cx="157.8" cy="115.7" r="0.58" opacity="0.70"/><circle cx="168.3" cy="128.5" r="0.64" opacity="0.54"/><circle cx="203.7" cy="150.8" r="0.57" opacity="0.53"/><circle cx="200.9" cy="126.8" r="0.59" opacity="0.53"/><circle cx="189.4" cy="112.1" r="0.77" opacity="0.47"/><circle cx="166.1" cy="121.0" r="0.51" opacity="0.34"/><circle cx="185.8" cy="107.0" r="1.15" opacity="0.61"/><circle cx="229.9" cy="131.0" r="0.58" opacity="0.44"/><circle cx="159.8" cy="120.8" r="0.48" opacity="0.70"/><circle cx="224.0" cy="143.6" r="0.77" opacity="0.54"/><circle cx="218.4" cy="117.5" r="0.83" opacity="0.68"/><circle cx="178.1" cy="102.2" r="1.07" opacity="0.38"/><circle cx="203.6" cy="108.8" r="0.89" opacity="0.35"/><circle cx="187.8" cy="131.9" r="0.98" opacity="0.68"/><circle cx="200.8" cy="132.2" r="0.97" opacity="0.61"/><circle cx="170.9" cy="135.2" r="0.77" opacity="0.70"/><circle cx="174.9" cy="130.1" r="0.87" opacity="0.38"/><circle cx="207.5" cy="107.9" r="0.77" opacity="0.61"/><circle cx="224.9" cy="152.2" r="1.09" opacity="0.51"/><circle cx="192.4" cy="104.1" r="0.61" opacity="0.42"/><circle cx="174.1" cy="113.9" r="0.65" opacity="0.54"/><circle cx="231.7" cy="121.1" r="0.96" opacity="0.63"/><circle cx="182.7" cy="111.8" r="0.91" opacity="0.46"/><circle cx="207.3" cy="105.4" r="1.08" opacity="0.74"/><circle cx="159.0" cy="133.1" r="0.60" opacity="0.31"/><circle cx="219.3" cy="151.5" r="1.04" opacity="0.70"/><circle cx="205.7" cy="119.0" r="0.76" opacity="0.47"/><circle cx="169.8" cy="110.8" r="0.95" opacity="0.60"/><circle cx="177.4" cy="110.5" r="0.95" opacity="0.64"/><circle cx="174.0" cy="129.6" r="0.87" opacity="0.50"/><circle cx="216.6" cy="145.9" r="1.13" opacity="0.38"/><circle cx="234.7" cy="152.3" r="0.65" opacity="0.37"/><circle cx="220.2" cy="120.3" r="0.70" opacity="0.45"/><circle cx="185.2" cy="137.7" r="0.84" opacity="0.56"/><circle cx="219.1" cy="126.0" r="0.84" opacity="0.51"/><circle cx="213.3" cy="107.5" r="0.48" opacity="0.49"/><circle cx="224.1" cy="132.6" r="1.10" opacity="0.67"/><circle cx="173.0" cy="113.3" r="0.61" opacity="0.57"/><circle cx="153.3" cy="121.9" r="0.63" opacity="0.37"/><circle cx="214.9" cy="111.9" r="0.88" opacity="0.70"/><circle cx="195.0" cy="126.9" r="0.49" opacity="0.73"/><circle cx="166.1" cy="106.1" r="0.83" opacity="0.56"/><circle cx="230.5" cy="139.3" r="0.65" opacity="0.60"/><circle cx="208.6" cy="113.5" r="0.81" opacity="0.33"/><circle cx="220.0" cy="135.5" r="0.86" opacity="0.57"/><circle cx="154.2" cy="123.9" r="0.77" opacity="0.63"/><circle cx="197.4" cy="102.6" r="0.45" opacity="0.50"/><circle cx="162.3" cy="114.5" r="0.55" opacity="0.43"/><circle cx="192.3" cy="108.9" r="1.11" opacity="0.62"/><circle cx="233.8" cy="107.5" r="0.62" opacity="0.72"/><circle cx="158.2" cy="107.1" r="1.02" opacity="0.50"/><circle cx="148.3" cy="103.2" r="0.94" opacity="0.47"/><circle cx="208.3" cy="143.2" r="0.97" opacity="0.74"/><circle cx="226.0" cy="147.1" r="0.87" opacity="0.35"/><circle cx="218.9" cy="135.7" r="0.48" opacity="0.38"/><circle cx="225.7" cy="111.5" r="0.62" opacity="0.43"/><circle cx="219.2" cy="120.8" r="0.93" opacity="0.50"/><circle cx="185.3" cy="122.1" r="1.14" opacity="0.72"/></g><path d="M186 118.3 Q189 116.6 194 117.4 Q198 119 198.2 122.5 Q197.8 125 195 124.8 Q191 124.2 188 122.8 Q185.7 121 186 118.3 Z" fill="#f0f3f6"/><circle cx="192" cy="120.4" r="1.1" fill="#5a6680" filter="url(#sb)"/><circle cx="190.6" cy="121.7" r="0.7" fill="#66708a" filter="url(#sb)"/><path d="M164 141.5 Q166.5 140.5 168.6 142.5 Q166.5 146 165.6 153 L162 153 Q162.5 146 164 141.5 Z" fill="#f0f3f6"/><ellipse cx="232.7" cy="112.8" rx="1.5" ry="1" fill="#f2f4f6"/><defs><clipPath id="cd"><rect x="146" y="163" width="92" height="50"/></clipPath></defs><g fill="#7a6a6a" filter="url(#sb)" clip-path="url(#cd)"><circle cx="203.3" cy="200.1" r="0.75" opacity="0.77"/><circle cx="214.1" cy="209.1" r="0.36" opacity="0.56"/><circle cx="232.8" cy="195.4" r="0.80" opacity="0.40"/><circle cx="189.2" cy="175.3" r="0.62" opacity="0.61"/><circle cx="147.2" cy="173.8" r="0.49" opacity="0.76"/><circle cx="216.4" cy="171.0" r="0.75" opacity="0.41"/><circle cx="202.8" cy="169.3" r="0.35" opacity="0.74"/><circle cx="165.3" cy="173.8" r="0.84" opacity="0.74"/><circle cx="172.6" cy="211.1" r="0.62" opacity="0.66"/><circle cx="164.8" cy="210.0" r="0.70" opacity="0.78"/><circle cx="228.2" cy="177.9" r="0.53" opacity="0.42"/><circle cx="159.4" cy="166.3" r="0.50" opacity="0.62"/><circle cx="146.3" cy="196.9" r="0.52" opacity="0.49"/><circle cx="221.3" cy="187.0" r="0.51" opacity="0.57"/><circle cx="210.8" cy="165.9" r="0.84" opacity="0.36"/><circle cx="215.0" cy="205.2" r="0.36" opacity="0.70"/><circle cx="179.7" cy="191.9" r="0.35" opacity="0.37"/><circle cx="162.6" cy="210.8" r="0.45" opacity="0.69"/><circle cx="231.5" cy="210.1" r="0.52" opacity="0.51"/><circle cx="194.3" cy="201.8" r="0.40" opacity="0.69"/><circle cx="219.3" cy="206.0" r="0.37" opacity="0.78"/><circle cx="154.4" cy="180.0" r="0.66" opacity="0.76"/><circle cx="177.3" cy="209.2" r="0.62" opacity="0.49"/><circle cx="175.1" cy="171.9" r="0.39" opacity="0.42"/><circle cx="209.4" cy="212.8" r="0.43" opacity="0.37"/><circle cx="236.8" cy="189.7" r="0.55" opacity="0.46"/><circle cx="200.6" cy="204.3" r="0.58" opacity="0.54"/><circle cx="151.1" cy="208.8" r="0.37" opacity="0.57"/><circle cx="223.1" cy="169.5" r="0.72" opacity="0.78"/><circle cx="204.0" cy="202.4" r="0.40" opacity="0.55"/><circle cx="159.7" cy="205.2" r="0.50" opacity="0.55"/><circle cx="237.9" cy="205.6" r="0.84" opacity="0.55"/><circle cx="190.9" cy="199.5" r="0.59" opacity="0.48"/><circle cx="183.1" cy="170.3" r="0.54" opacity="0.79"/><circle cx="234.3" cy="194.3" r="0.60" opacity="0.50"/><circle cx="154.2" cy="176.6" r="0.74" opacity="0.74"/><circle cx="179.2" cy="202.3" r="0.74" opacity="0.66"/><circle cx="207.1" cy="201.0" r="0.53" opacity="0.67"/><circle cx="171.8" cy="187.3" r="0.73" opacity="0.66"/><circle cx="173.0" cy="210.3" r="0.67" opacity="0.61"/><circle cx="147.1" cy="190.3" r="0.48" opacity="0.65"/><circle cx="188.6" cy="203.8" r="0.67" opacity="0.71"/><circle cx="178.0" cy="195.2" r="0.72" opacity="0.72"/><circle cx="178.2" cy="205.1" r="0.78" opacity="0.66"/><circle cx="235.8" cy="210.8" r="0.61" opacity="0.59"/><circle cx="161.3" cy="204.8" r="0.82" opacity="0.56"/><circle cx="209.6" cy="199.0" r="0.72" opacity="0.43"/><circle cx="217.8" cy="192.0" r="0.68" opacity="0.54"/><circle cx="203.4" cy="201.7" r="0.67" opacity="0.67"/><circle cx="148.5" cy="171.0" r="0.57" opacity="0.64"/><circle cx="166.2" cy="197.3" r="0.67" opacity="0.37"/><circle cx="189.4" cy="174.3" r="0.38" opacity="0.41"/><circle cx="175.2" cy="172.1" r="0.45" opacity="0.37"/><circle cx="188.8" cy="182.0" r="0.66" opacity="0.62"/><circle cx="167.9" cy="208.2" r="0.35" opacity="0.53"/><circle cx="171.6" cy="183.5" r="0.41" opacity="0.72"/><circle cx="180.4" cy="164.8" r="0.66" opacity="0.39"/><circle cx="196.2" cy="180.0" r="0.64" opacity="0.78"/><circle cx="221.3" cy="184.0" r="0.76" opacity="0.64"/><circle cx="180.0" cy="170.1" r="0.65" opacity="0.60"/><circle cx="234.1" cy="211.4" r="0.65" opacity="0.51"/><circle cx="228.2" cy="163.0" r="0.40" opacity="0.60"/><circle cx="202.6" cy="170.0" r="0.66" opacity="0.75"/><circle cx="180.6" cy="184.6" r="0.46" opacity="0.48"/><circle cx="235.5" cy="182.0" r="0.83" opacity="0.76"/><circle cx="200.8" cy="176.0" r="0.84" opacity="0.57"/><circle cx="184.2" cy="179.0" r="0.84" opacity="0.57"/><circle cx="172.3" cy="186.8" r="0.41" opacity="0.63"/><circle cx="186.8" cy="177.7" r="0.74" opacity="0.72"/><circle cx="147.2" cy="189.6" r="0.49" opacity="0.77"/><circle cx="217.9" cy="175.3" r="0.48" opacity="0.42"/><circle cx="237.0" cy="177.7" r="0.65" opacity="0.56"/><circle cx="205.3" cy="193.2" r="0.72" opacity="0.40"/><circle cx="216.0" cy="178.0" r="0.62" opacity="0.50"/><circle cx="173.3" cy="189.5" r="0.58" opacity="0.51"/><circle cx="214.5" cy="192.5" r="0.37" opacity="0.46"/><circle cx="187.9" cy="208.8" r="0.79" opacity="0.60"/><circle cx="147.3" cy="201.9" r="0.56" opacity="0.61"/><circle cx="211.2" cy="194.6" r="0.59" opacity="0.76"/><circle cx="181.5" cy="182.6" r="0.78" opacity="0.44"/><circle cx="173.3" cy="204.5" r="0.38" opacity="0.73"/><circle cx="209.9" cy="184.6" r="0.49" opacity="0.70"/><circle cx="229.8" cy="170.1" r="0.59" opacity="0.60"/><circle cx="191.8" cy="179.5" r="0.43" opacity="0.61"/><circle cx="220.7" cy="166.4" r="0.47" opacity="0.72"/><circle cx="218.8" cy="196.2" r="0.36" opacity="0.68"/><circle cx="236.0" cy="212.9" r="0.70" opacity="0.37"/><circle cx="223.5" cy="174.0" r="0.67" opacity="0.78"/><circle cx="211.5" cy="169.7" r="0.50" opacity="0.76"/><circle cx="159.8" cy="193.5" r="0.56" opacity="0.42"/><circle cx="203.3" cy="165.2" r="0.40" opacity="0.52"/><circle cx="152.6" cy="165.9" r="0.64" opacity="0.68"/><circle cx="226.8" cy="169.7" r="0.57" opacity="0.49"/><circle cx="201.2" cy="187.5" r="0.82" opacity="0.52"/><circle cx="151.1" cy="197.9" r="0.43" opacity="0.63"/><circle cx="192.5" cy="208.5" r="0.63" opacity="0.63"/><circle cx="170.2" cy="190.6" r="0.48" opacity="0.69"/><circle cx="193.6" cy="169.7" r="0.47" opacity="0.52"/><circle cx="213.8" cy="172.0" r="0.71" opacity="0.64"/><circle cx="153.8" cy="196.4" r="0.40" opacity="0.41"/><circle cx="200.6" cy="174.9" r="0.79" opacity="0.57"/><circle cx="175.7" cy="202.8" r="0.36" opacity="0.68"/><circle cx="150.9" cy="170.5" r="0.83" opacity="0.66"/><circle cx="166.5" cy="168.8" r="0.84" opacity="0.65"/><circle cx="221.5" cy="170.0" r="0.66" opacity="0.51"/><circle cx="167.6" cy="179.7" r="0.66" opacity="0.51"/><circle cx="181.5" cy="169.8" r="0.77" opacity="0.64"/><circle cx="220.0" cy="184.7" r="0.78" opacity="0.58"/><circle cx="200.5" cy="191.7" r="0.72" opacity="0.53"/><circle cx="154.9" cy="164.7" r="0.45" opacity="0.37"/><circle cx="227.8" cy="187.0" r="0.73" opacity="0.35"/><circle cx="189.3" cy="207.5" r="0.66" opacity="0.54"/><circle cx="188.8" cy="168.0" r="0.43" opacity="0.42"/><circle cx="180.5" cy="182.3" r="0.79" opacity="0.42"/><circle cx="169.4" cy="176.9" r="0.43" opacity="0.48"/><circle cx="167.6" cy="187.1" r="0.37" opacity="0.77"/><circle cx="179.9" cy="209.9" r="0.69" opacity="0.65"/><circle cx="189.4" cy="210.3" r="0.41" opacity="0.65"/><circle cx="172.8" cy="196.7" r="0.71" opacity="0.42"/><circle cx="164.5" cy="164.2" r="0.47" opacity="0.39"/><circle cx="182.9" cy="211.7" r="0.53" opacity="0.49"/><circle cx="189.1" cy="177.2" r="0.72" opacity="0.67"/><circle cx="161.0" cy="175.0" r="0.69" opacity="0.77"/><circle cx="205.4" cy="184.5" r="0.84" opacity="0.35"/><circle cx="151.6" cy="202.0" r="0.56" opacity="0.37"/><circle cx="196.5" cy="212.5" r="0.61" opacity="0.51"/><circle cx="154.6" cy="166.6" r="0.80" opacity="0.57"/><circle cx="232.1" cy="165.7" r="0.47" opacity="0.37"/><circle cx="182.6" cy="166.0" r="0.48" opacity="0.53"/><circle cx="174.1" cy="165.6" r="0.37" opacity="0.79"/><circle cx="162.5" cy="188.4" r="0.55" opacity="0.59"/><circle cx="153.8" cy="178.7" r="0.40" opacity="0.59"/><circle cx="230.8" cy="192.9" r="0.78" opacity="0.45"/><circle cx="147.6" cy="190.0" r="0.59" opacity="0.61"/><circle cx="180.6" cy="194.3" r="0.71" opacity="0.76"/><circle cx="174.3" cy="185.5" r="0.76" opacity="0.45"/><circle cx="156.6" cy="178.6" r="0.39" opacity="0.70"/><circle cx="221.4" cy="178.6" r="0.41" opacity="0.39"/><circle cx="168.5" cy="167.2" r="0.56" opacity="0.61"/><circle cx="168.6" cy="166.1" r="0.70" opacity="0.37"/><circle cx="164.4" cy="177.3" r="0.54" opacity="0.39"/><circle cx="184.7" cy="178.7" r="0.73" opacity="0.60"/><circle cx="228.4" cy="195.7" r="0.73" opacity="0.61"/><circle cx="186.7" cy="203.8" r="0.68" opacity="0.78"/><circle cx="213.0" cy="198.1" r="0.48" opacity="0.72"/><circle cx="181.2" cy="169.5" r="0.38" opacity="0.43"/><circle cx="170.2" cy="196.8" r="0.49" opacity="0.38"/><circle cx="216.3" cy="190.9" r="0.36" opacity="0.37"/><circle cx="158.0" cy="180.9" r="0.78" opacity="0.78"/><circle cx="202.3" cy="174.6" r="0.56" opacity="0.51"/><circle cx="176.4" cy="163.6" r="0.64" opacity="0.72"/><circle cx="212.9" cy="167.8" r="0.62" opacity="0.43"/><circle cx="211.3" cy="185.3" r="0.82" opacity="0.71"/><circle cx="156.9" cy="178.9" r="0.81" opacity="0.56"/><circle cx="185.9" cy="185.1" r="0.73" opacity="0.77"/><circle cx="195.0" cy="211.5" r="0.65" opacity="0.40"/><circle cx="220.9" cy="184.0" r="0.38" opacity="0.79"/><circle cx="149.0" cy="191.8" r="0.59" opacity="0.75"/><circle cx="182.1" cy="173.8" r="0.49" opacity="0.44"/><circle cx="197.7" cy="180.8" r="0.73" opacity="0.46"/><circle cx="178.4" cy="175.4" r="0.84" opacity="0.73"/><circle cx="224.2" cy="193.9" r="0.55" opacity="0.41"/><circle cx="222.5" cy="187.5" r="0.37" opacity="0.43"/><circle cx="155.1" cy="198.9" r="0.80" opacity="0.44"/><circle cx="219.3" cy="179.2" r="0.69" opacity="0.74"/><circle cx="203.3" cy="203.0" r="0.54" opacity="0.35"/><circle cx="193.1" cy="192.3" r="0.44" opacity="0.53"/><circle cx="175.2" cy="164.4" r="0.51" opacity="0.52"/><circle cx="189.8" cy="198.2" r="0.55" opacity="0.79"/><circle cx="221.0" cy="209.2" r="0.70" opacity="0.65"/><circle cx="195.4" cy="202.9" r="0.53" opacity="0.62"/><circle cx="208.5" cy="189.1" r="0.49" opacity="0.38"/><circle cx="154.0" cy="180.8" r="0.64" opacity="0.69"/><circle cx="211.7" cy="178.3" r="0.81" opacity="0.47"/><circle cx="211.9" cy="166.6" r="0.73" opacity="0.65"/><circle cx="234.0" cy="207.9" r="0.69" opacity="0.73"/><circle cx="214.0" cy="193.5" r="0.45" opacity="0.58"/><circle cx="228.4" cy="175.0" r="0.84" opacity="0.59"/><circle cx="182.2" cy="163.1" r="0.55" opacity="0.43"/><circle cx="206.1" cy="208.0" r="0.81" opacity="0.63"/><circle cx="181.6" cy="168.4" r="0.69" opacity="0.60"/><circle cx="211.8" cy="181.7" r="0.79" opacity="0.45"/><circle cx="174.1" cy="176.4" r="0.66" opacity="0.75"/><circle cx="161.4" cy="194.6" r="0.73" opacity="0.45"/><circle cx="151.8" cy="191.3" r="0.77" opacity="0.75"/><circle cx="213.0" cy="183.8" r="0.56" opacity="0.59"/><circle cx="229.2" cy="178.1" r="0.49" opacity="0.62"/><circle cx="234.9" cy="172.4" r="0.37" opacity="0.40"/><circle cx="197.8" cy="193.2" r="0.44" opacity="0.44"/><circle cx="200.7" cy="195.3" r="0.70" opacity="0.68"/><circle cx="151.6" cy="187.2" r="0.77" opacity="0.78"/><circle cx="175.3" cy="205.5" r="0.67" opacity="0.77"/><circle cx="167.1" cy="197.8" r="0.77" opacity="0.56"/><circle cx="155.3" cy="172.7" r="0.43" opacity="0.39"/><circle cx="160.0" cy="193.8" r="0.40" opacity="0.69"/><circle cx="213.7" cy="203.8" r="0.75" opacity="0.67"/><circle cx="231.0" cy="210.8" r="0.66" opacity="0.78"/><circle cx="155.5" cy="168.1" r="0.38" opacity="0.44"/><circle cx="180.4" cy="185.9" r="0.69" opacity="0.68"/><circle cx="153.7" cy="183.2" r="0.62" opacity="0.52"/><circle cx="156.8" cy="192.9" r="0.54" opacity="0.66"/><circle cx="191.6" cy="211.1" r="0.82" opacity="0.38"/><circle cx="215.9" cy="199.1" r="0.50" opacity="0.40"/><circle cx="190.1" cy="180.7" r="0.72" opacity="0.76"/><circle cx="181.2" cy="177.5" r="0.60" opacity="0.66"/><circle cx="218.6" cy="191.8" r="0.50" opacity="0.50"/><circle cx="224.0" cy="189.0" r="0.38" opacity="0.54"/><circle cx="167.9" cy="196.3" r="0.39" opacity="0.47"/><circle cx="154.8" cy="186.9" r="0.84" opacity="0.59"/><circle cx="181.5" cy="209.7" r="0.40" opacity="0.51"/><circle cx="220.6" cy="163.3" r="0.73" opacity="0.51"/><circle cx="147.5" cy="175.5" r="0.58" opacity="0.52"/><circle cx="193.5" cy="165.7" r="0.46" opacity="0.79"/><circle cx="186.7" cy="186.6" r="0.39" opacity="0.48"/><circle cx="233.8" cy="197.4" r="0.60" opacity="0.37"/><circle cx="182.1" cy="201.9" r="0.57" opacity="0.62"/><circle cx="229.0" cy="195.3" r="0.67" opacity="0.37"/><circle cx="148.2" cy="201.5" r="0.56" opacity="0.74"/><circle cx="222.0" cy="208.8" r="0.54" opacity="0.80"/><circle cx="215.6" cy="207.6" r="0.42" opacity="0.70"/><circle cx="184.8" cy="211.6" r="0.85" opacity="0.45"/><circle cx="184.8" cy="176.5" r="0.58" opacity="0.48"/><circle cx="207.3" cy="169.2" r="0.43" opacity="0.56"/><circle cx="152.8" cy="182.1" r="0.80" opacity="0.75"/><circle cx="164.1" cy="163.9" r="0.76" opacity="0.78"/><circle cx="201.1" cy="169.8" r="0.47" opacity="0.76"/><circle cx="232.3" cy="164.6" r="0.44" opacity="0.54"/><circle cx="170.5" cy="200.7" r="0.54" opacity="0.70"/><circle cx="160.0" cy="188.9" r="0.84" opacity="0.67"/><circle cx="154.3" cy="168.5" r="0.67" opacity="0.52"/><circle cx="179.9" cy="186.9" r="0.64" opacity="0.78"/><circle cx="168.2" cy="191.4" r="0.48" opacity="0.60"/><circle cx="213.3" cy="169.7" r="0.59" opacity="0.67"/><circle cx="146.7" cy="201.6" r="0.56" opacity="0.58"/><circle cx="202.2" cy="202.6" r="0.38" opacity="0.58"/><circle cx="149.5" cy="182.3" r="0.52" opacity="0.36"/><circle cx="173.4" cy="185.5" r="0.68" opacity="0.77"/><circle cx="180.1" cy="189.5" r="0.71" opacity="0.77"/><circle cx="233.4" cy="212.4" r="0.50" opacity="0.42"/><circle cx="231.7" cy="166.9" r="0.57" opacity="0.68"/></g><ellipse cx="150.8" cy="167" rx="4.3" ry="2.4" transform="rotate(35 150.8 167)" fill="#eef2f5"/><ellipse cx="191.4" cy="187.8" rx="3.7" ry="4.4" transform="rotate(-15 191.4 187.8)" fill="#f0f3f6"/><path d="M187.5 185 Q188.5 182.5 191 183.2" fill="none" stroke="#5c6274" stroke-width="0.8" filter="url(#sb)"/><path d="M172.3 202.6 Q177 206 182.4 210.6" fill="none" stroke="#eef2f5" stroke-width="2.4" stroke-linecap="round"/><path d="M327.5 102 L333.2 102 L333.2 106.5 Z" fill="#fff"/><path d="M327.5 102.2 L333 106.3" stroke="#9a8a88" stroke-width="1" opacity="0.7" filter="url(#sb)"/><path d="M241.5 147.2 L248 144.5" stroke="#f2f4f6" stroke-width="1.1" stroke-linecap="round"/><path d="M309.2 142.8 L312.6 145.3" stroke="#f2f4f6" stroke-width="1.1" stroke-linecap="round"/><ellipse cx="242" cy="130.3" rx="0.9" ry="0.8" fill="#f2f4f6"/><line x1="48.5" y1="32.3" x2="48.5" y2="114.8" stroke="#000" stroke-width="1.2"/><line x1="47.8" y1="114.5" x2="121.9" y2="114.5" stroke="#000" stroke-width="1.2"/><line x1="45.199999999999996" y1="114.5" x2="48.4" y2="114.5" stroke="#000" stroke-width="1.2"/><text x="42.4" y="117.187872" font-size="9.184" text-anchor="end" font-weight="normal" fill="#000" stroke="#000" stroke-width="0.15" textLength="4.42" lengthAdjust="spacingAndGlyphs">0</text><line x1="45.199999999999996" y1="87.5" x2="48.4" y2="87.5" stroke="#000" stroke-width="1.2"/><text x="42.4" y="90.887872" font-size="9.184" text-anchor="end" font-weight="normal" fill="#000" stroke="#000" stroke-width="0.15" textLength="8.84" lengthAdjust="spacingAndGlyphs">20</text><line x1="45.199999999999996" y1="61.5" x2="48.4" y2="61.5" stroke="#000" stroke-width="1.2"/><text x="42.4" y="64.587872" font-size="9.184" text-anchor="end" font-weight="normal" fill="#000" stroke="#000" stroke-width="0.15" textLength="8.84" lengthAdjust="spacingAndGlyphs">40</text><line x1="45.199999999999996" y1="35.5" x2="48.4" y2="35.5" stroke="#000" stroke-width="1.2"/><text x="42.4" y="38.287872" font-size="9.184" text-anchor="end" font-weight="normal" fill="#000" stroke="#000" stroke-width="0.15" textLength="8.84" lengthAdjust="spacingAndGlyphs">60</text><line x1="57.5" y1="114.2" x2="57.5" y2="117.60000000000001" stroke="#000" stroke-width="1.2"/><line x1="71.5" y1="114.2" x2="71.5" y2="117.60000000000001" stroke="#000" stroke-width="1.2"/><line x1="84.5" y1="114.2" x2="84.5" y2="117.60000000000001" stroke="#000" stroke-width="1.2"/><line x1="98.5" y1="114.2" x2="98.5" y2="117.60000000000001" stroke="#000" stroke-width="1.2"/><line x1="112.5" y1="114.2" x2="112.5" y2="117.60000000000001" stroke="#000" stroke-width="1.2"/><text x="60.9" y="123.60000000000001" font-size="8.5" text-anchor="end" font-weight="normal" fill="#000" stroke="#000" stroke-width="0.15" transform="rotate(-45 60.9 123.60000000000001)">Na&#239;ve</text><text x="74.69999999999999" y="123.60000000000001" font-size="8.5" text-anchor="end" font-weight="normal" fill="#000" stroke="#000" stroke-width="0.15" transform="rotate(-45 74.69999999999999 123.60000000000001)">Vehicle</text><text x="88.6" y="123.60000000000001" font-size="8.5" text-anchor="end" font-weight="normal" fill="#000" stroke="#000" stroke-width="0.15" transform="rotate(-45 88.6 123.60000000000001)">DEX</text><text x="102.39999999999999" y="123.60000000000001" font-size="8.5" text-anchor="end" font-weight="normal" fill="#000" stroke="#000" stroke-width="0.15" transform="rotate(-45 102.39999999999999 123.60000000000001)">RUX</text><text x="116.19999999999999" y="123.60000000000001" font-size="8.5" text-anchor="end" font-weight="normal" fill="#000" stroke="#000" stroke-width="0.15" transform="rotate(-45 116.19999999999999 123.60000000000001)">DEX+RUX</text><text x="28.2" y="72.8" font-size="9.6" text-anchor="middle" fill="#000" stroke="#000" stroke-width="0.18" transform="rotate(-90 28.2 72.8)" textLength="88" lengthAdjust="spacingAndGlyphs">CD8T cell number (&#215;10<tspan dy="-3.5" font-size="6.5">6</tspan><tspan dy="3.5">)</tspan></text><rect x="56.35" y="101.05" width="1.9" height="1.9" fill="#f2971f"/><rect x="54.15" y="102.55" width="1.9" height="1.9" fill="#f2971f"/><rect x="58.55" y="103.05" width="1.9" height="1.9" fill="#f2971f"/><rect x="60.15" y="103.55" width="1.9" height="1.9" fill="#f2971f"/><rect x="57.55" y="102.05" width="1.9" height="1.9" fill="#f2971f"/><rect x="70.15" y="55.55" width="1.9" height="1.9" fill="#c4122f"/><rect x="70.15" y="70.25" width="1.9" height="1.9" fill="#c4122f"/><rect x="67.55" y="73.65" width="1.9" height="1.9" fill="#c4122f"/><rect x="70.45" y="72.55" width="1.9" height="1.9" fill="#c4122f"/><rect x="72.95" y="74.55" width="1.9" height="1.9" fill="#c4122f"/><rect x="70.15" y="83.85" width="1.9" height="1.9" fill="#c4122f"/><rect x="70.15" y="92.05" width="1.9" height="1.9" fill="#c4122f"/><rect x="70.15" y="99.65" width="1.9" height="1.9" fill="#c4122f"/><rect x="82.25" y="85.95" width="1.9" height="1.9" fill="#1d4a9b"/><rect x="85.75" y="87.05" width="1.9" height="1.9" fill="#1d4a9b"/><rect x="81.75" y="92.55" width="1.9" height="1.9" fill="#1d4a9b"/><rect x="86.25" y="92.55" width="1.9" height="1.9" fill="#1d4a9b"/><rect x="84.05" y="93.15" width="1.9" height="1.9" fill="#1d4a9b"/><rect x="87.25" y="95.25" width="1.9" height="1.9" fill="#1d4a9b"/><rect x="82.25" y="98.25" width="1.9" height="1.9" fill="#1d4a9b"/><rect x="85.25" y="98.25" width="1.9" height="1.9" fill="#1d4a9b"/><rect x="95.55" y="94.85" width="1.9" height="1.9" fill="#5cb531"/><rect x="100.05" y="94.85" width="1.9" height="1.9" fill="#5cb531"/><rect x="100.05" y="97.55" width="1.9" height="1.9" fill="#5cb531"/><rect x="95.55" y="99.35" width="1.9" height="1.9" fill="#5cb531"/><rect x="100.05" y="102.15" width="1.9" height="1.9" fill="#5cb531"/><rect x="96.05" y="102.05" width="1.9" height="1.9" fill="#5cb531"/><rect x="97.85" y="105.15" width="1.9" height="1.9" fill="#5cb531"/><rect x="97.85" y="112.05" width="1.9" height="1.9" fill="#5cb531"/><rect x="111.65" y="103.25" width="1.9" height="1.9" fill="#5b2784"/><rect x="111.65" y="107.05" width="1.9" height="1.9" fill="#5b2784"/><rect x="108.65" y="109.55" width="1.9" height="1.9" fill="#5b2784"/><rect x="110.65" y="110.05" width="1.9" height="1.9" fill="#5b2784"/><rect x="113.15" y="110.55" width="1.9" height="1.9" fill="#5b2784"/><rect x="115.15" y="110.55" width="1.9" height="1.9" fill="#5b2784"/><rect x="109.15" y="111.85" width="1.9" height="1.9" fill="#5b2784"/><rect x="112.65" y="112.05" width="1.9" height="1.9" fill="#5b2784"/><line x1="52.699999999999996" y1="103.5" x2="61.9" y2="103.5" stroke="#000" stroke-width="1.3"/><line x1="66.5" y1="79.5" x2="75.69999999999999" y2="79.5" stroke="#000" stroke-width="1.3"/><line x1="71.5" y1="74.6" x2="71.5" y2="85.2" stroke="#000" stroke-width="1.1"/><line x1="68.39999999999999" y1="74.5" x2="73.8" y2="74.5" stroke="#000" stroke-width="1.1"/><line x1="68.39999999999999" y1="85.5" x2="73.8" y2="85.5" stroke="#000" stroke-width="1.1"/><line x1="80.4" y1="94.5" x2="89.6" y2="94.5" stroke="#000" stroke-width="1.3"/><line x1="84.5" y1="92.6" x2="84.5" y2="95.6" stroke="#000" stroke-width="1.1"/><line x1="82.3" y1="92.5" x2="87.7" y2="92.5" stroke="#000" stroke-width="1.1"/><line x1="82.3" y1="95.5" x2="87.7" y2="95.5" stroke="#000" stroke-width="1.1"/><line x1="94.2" y1="101.5" x2="103.39999999999999" y2="101.5" stroke="#000" stroke-width="1.3"/><line x1="98.5" y1="99.5" x2="98.5" y2="103.9" stroke="#000" stroke-width="1.1"/><line x1="96.1" y1="99.5" x2="101.5" y2="99.5" stroke="#000" stroke-width="1.1"/><line x1="96.1" y1="103.5" x2="101.5" y2="103.5" stroke="#000" stroke-width="1.1"/><line x1="108.0" y1="111.5" x2="117.19999999999999" y2="111.5" stroke="#000" stroke-width="1.3"/><line x1="112.5" y1="110.3" x2="112.5" y2="112.3" stroke="#000" stroke-width="1.1"/><line x1="109.89999999999999" y1="110.5" x2="115.3" y2="110.5" stroke="#000" stroke-width="1.1"/><line x1="109.89999999999999" y1="112.5" x2="115.3" y2="112.5" stroke="#000" stroke-width="1.1"/><line x1="72.1" y1="35.5" x2="112.9" y2="35.5" stroke="#3a3a3a" stroke-width="1.2"/><circle cx="87.40" cy="31.70" r="1.08" fill="#111"/><circle cx="90.80" cy="31.70" r="1.08" fill="#111"/><circle cx="94.20" cy="31.70" r="1.08" fill="#111"/><circle cx="97.60" cy="31.70" r="1.08" fill="#111"/><line x1="72.1" y1="43.5" x2="98.1" y2="43.5" stroke="#3a3a3a" stroke-width="1.2"/><circle cx="80.00" cy="39.90" r="1.08" fill="#111"/><circle cx="83.40" cy="39.90" r="1.08" fill="#111"/><circle cx="86.80" cy="39.90" r="1.08" fill="#111"/><circle cx="90.20" cy="39.90" r="1.08" fill="#111"/><line x1="57" y1="52.5" x2="71.2" y2="52.5" stroke="#3a3a3a" stroke-width="1.2"/><circle cx="59.00" cy="49.20" r="1.08" fill="#111"/><circle cx="62.40" cy="49.20" r="1.08" fill="#111"/><circle cx="65.80" cy="49.20" r="1.08" fill="#111"/><circle cx="69.20" cy="49.20" r="1.08" fill="#111"/><line x1="72.2" y1="52.5" x2="86" y2="52.5" stroke="#3a3a3a" stroke-width="1.2"/><circle cx="77.40" cy="49.20" r="1.08" fill="#111"/><circle cx="80.80" cy="49.20" r="1.08" fill="#111"/><line x1="87.3" y1="81.5" x2="112.9" y2="81.5" stroke="#3a3a3a" stroke-width="1.2"/><circle cx="95.00" cy="77.40" r="1.08" fill="#111"/><circle cx="98.40" cy="77.40" r="1.08" fill="#111"/><circle cx="101.80" cy="77.40" r="1.08" fill="#111"/><circle cx="105.20" cy="77.40" r="1.08" fill="#111"/><line x1="386.5" y1="32.8" x2="386.5" y2="114.8" stroke="#000" stroke-width="1.2"/><line x1="385.79999999999995" y1="114.5" x2="459" y2="114.5" stroke="#000" stroke-width="1.2"/><line x1="383.2" y1="114.5" x2="386.4" y2="114.5" stroke="#000" stroke-width="1.2"/><text x="380.4" y="117.487872" font-size="9.184" text-anchor="end" font-weight="normal" fill="#000" stroke="#000" stroke-width="0.15" textLength="4.42" lengthAdjust="spacingAndGlyphs">0</text><line x1="383.2" y1="94.5" x2="386.4" y2="94.5" stroke="#000" stroke-width="1.2"/><text x="380.4" y="97.387872" font-size="9.184" text-anchor="end" font-weight="normal" fill="#000" stroke="#000" stroke-width="0.15" textLength="8.84" lengthAdjust="spacingAndGlyphs">10</text><line x1="383.2" y1="74.5" x2="386.4" y2="74.5" stroke="#000" stroke-width="1.2"/><text x="380.4" y="77.58787199999999" font-size="9.184" text-anchor="end" font-weight="normal" fill="#000" stroke="#000" stroke-width="0.15" textLength="8.84" lengthAdjust="spacingAndGlyphs">20</text><line x1="383.2" y1="54.5" x2="386.4" y2="54.5" stroke="#000" stroke-width="1.2"/><text x="380.4" y="57.987872" font-size="9.184" text-anchor="end" font-weight="normal" fill="#000" stroke="#000" stroke-width="0.15" textLength="8.84" lengthAdjust="spacingAndGlyphs">30</text><line x1="383.2" y1="34.5" x2="386.4" y2="34.5" stroke="#000" stroke-width="1.2"/><text x="380.4" y="37.787872" font-size="9.184" text-anchor="end" font-weight="normal" fill="#000" stroke="#000" stroke-width="0.15" textLength="8.84" lengthAdjust="spacingAndGlyphs">40</text><line x1="395.5" y1="114.2" x2="395.5" y2="117.60000000000001" stroke="#000" stroke-width="1.2"/><line x1="409.5" y1="114.2" x2="409.5" y2="117.60000000000001" stroke="#000" stroke-width="1.2"/><line x1="423.5" y1="114.2" x2="423.5" y2="117.60000000000001" stroke="#000" stroke-width="1.2"/><line x1="436.5" y1="114.2" x2="436.5" y2="117.60000000000001" stroke="#000" stroke-width="1.2"/><line x1="450.5" y1="114.2" x2="450.5" y2="117.60000000000001" stroke="#000" stroke-width="1.2"/><text x="399.1" y="123.60000000000001" font-size="8.5" text-anchor="end" font-weight="normal" fill="#000" stroke="#000" stroke-width="0.15" transform="rotate(-45 399.1 123.60000000000001)">Na&#239;ve</text><text x="413.1" y="123.60000000000001" font-size="8.5" text-anchor="end" font-weight="normal" fill="#000" stroke="#000" stroke-width="0.15" transform="rotate(-45 413.1 123.60000000000001)">Vehicle</text><text x="426.70000000000005" y="123.60000000000001" font-size="8.5" text-anchor="end" font-weight="normal" fill="#000" stroke="#000" stroke-width="0.15" transform="rotate(-45 426.70000000000005 123.60000000000001)">DEX</text><text x="440.5" y="123.60000000000001" font-size="8.5" text-anchor="end" font-weight="normal" fill="#000" stroke="#000" stroke-width="0.15" transform="rotate(-45 440.5 123.60000000000001)">RUX</text><text x="454.1" y="123.60000000000001" font-size="8.5" text-anchor="end" font-weight="normal" fill="#000" stroke="#000" stroke-width="0.15" transform="rotate(-45 454.1 123.60000000000001)">DEX+RUX</text><text x="365" y="69.5" font-size="8.7" text-anchor="middle" fill="#000" stroke="#000" stroke-width="0.18" transform="rotate(-90 365 69.5)" textLength="70.5" lengthAdjust="spacingAndGlyphs">% positive of total area</text><line x1="390.9" y1="103.5" x2="400.1" y2="103.5" stroke="#000" stroke-width="1.3"/><line x1="395.5" y1="101.5" x2="395.5" y2="106" stroke="#000" stroke-width="1.1"/><line x1="392.8" y1="101.5" x2="398.2" y2="101.5" stroke="#000" stroke-width="1.1"/><line x1="392.8" y1="106.5" x2="398.2" y2="106.5" stroke="#000" stroke-width="1.1"/><line x1="404.9" y1="67.5" x2="414.1" y2="67.5" stroke="#000" stroke-width="1.3"/><line x1="409.5" y1="62.4" x2="409.5" y2="72.7" stroke="#000" stroke-width="1.1"/><line x1="406.8" y1="62.5" x2="412.2" y2="62.5" stroke="#000" stroke-width="1.1"/><line x1="406.8" y1="72.5" x2="412.2" y2="72.5" stroke="#000" stroke-width="1.1"/><line x1="418.5" y1="76.5" x2="427.70000000000005" y2="76.5" stroke="#000" stroke-width="1.3"/><line x1="423.5" y1="71" x2="423.5" y2="81" stroke="#000" stroke-width="1.1"/><line x1="420.40000000000003" y1="70.5" x2="425.8" y2="70.5" stroke="#000" stroke-width="1.1"/><line x1="420.40000000000003" y1="80.5" x2="425.8" y2="80.5" stroke="#000" stroke-width="1.1"/><line x1="432.29999999999995" y1="87.5" x2="441.5" y2="87.5" stroke="#000" stroke-width="1.3"/><line x1="436.5" y1="82.3" x2="436.5" y2="93.3" stroke="#000" stroke-width="1.1"/><line x1="434.2" y1="82.5" x2="439.59999999999997" y2="82.5" stroke="#000" stroke-width="1.1"/><line x1="434.2" y1="93.5" x2="439.59999999999997" y2="93.5" stroke="#000" stroke-width="1.1"/><line x1="445.9" y1="97.5" x2="455.1" y2="97.5" stroke="#000" stroke-width="1.3"/><line x1="450.5" y1="93.8" x2="450.5" y2="100" stroke="#000" stroke-width="1.1"/><line x1="447.8" y1="93.5" x2="453.2" y2="93.5" stroke="#000" stroke-width="1.1"/><line x1="447.8" y1="100.5" x2="453.2" y2="100.5" stroke="#000" stroke-width="1.1"/><rect x="394.55" y="95.95" width="1.9" height="1.9" fill="#f2971f"/><rect x="391.55" y="101.05" width="1.9" height="1.9" fill="#f2971f"/><rect x="397.55" y="101.05" width="1.9" height="1.9" fill="#f2971f"/><rect x="393.05" y="103.05" width="1.9" height="1.9" fill="#f2971f"/><rect x="396.05" y="103.55" width="1.9" height="1.9" fill="#f2971f"/><rect x="391.55" y="106.85" width="1.9" height="1.9" fill="#f2971f"/><rect x="397.55" y="106.85" width="1.9" height="1.9" fill="#f2971f"/><rect x="408.55" y="54.45" width="1.9" height="1.9" fill="#c4122f"/><rect x="408.55" y="59.95" width="1.9" height="1.9" fill="#c4122f"/><rect x="408.55" y="63.25" width="1.9" height="1.9" fill="#c4122f"/><rect x="408.55" y="72.05" width="1.9" height="1.9" fill="#c4122f"/><rect x="408.55" y="83.15" width="1.9" height="1.9" fill="#c4122f"/><rect x="420.15" y="66.05" width="1.9" height="1.9" fill="#1d4a9b"/><rect x="424.35" y="66.05" width="1.9" height="1.9" fill="#1d4a9b"/><rect x="422.15" y="69.85" width="1.9" height="1.9" fill="#1d4a9b"/><rect x="422.15" y="82.35" width="1.9" height="1.9" fill="#1d4a9b"/><rect x="422.15" y="91.95" width="1.9" height="1.9" fill="#1d4a9b"/><rect x="435.95" y="71.05" width="1.9" height="1.9" fill="#5cb531"/><rect x="435.95" y="77.35" width="1.9" height="1.9" fill="#5cb531"/><rect x="435.95" y="87.75" width="1.9" height="1.9" fill="#5cb531"/><rect x="433.95" y="98.25" width="1.9" height="1.9" fill="#5cb531"/><rect x="437.95" y="100.05" width="1.9" height="1.9" fill="#5cb531"/><rect x="446.55" y="90.85" width="1.9" height="1.9" fill="#5b2784"/><rect x="451.05" y="91.55" width="1.9" height="1.9" fill="#5b2784"/><rect x="454.05" y="91.55" width="1.9" height="1.9" fill="#5b2784"/><rect x="449.55" y="100.55" width="1.9" height="1.9" fill="#5b2784"/><rect x="449.55" y="106.65" width="1.9" height="1.9" fill="#5b2784"/><line x1="410.6" y1="26.5" x2="451.8" y2="26.5" stroke="#3a3a3a" stroke-width="1.2"/><circle cx="429.50" cy="22.50" r="1.08" fill="#111"/><circle cx="432.90" cy="22.50" r="1.08" fill="#111"/><line x1="410.6" y1="35.5" x2="436.7" y2="35.5" stroke="#3a3a3a" stroke-width="1.2"/><circle cx="423.65" cy="31.50" r="1.08" fill="#111"/><line x1="395.6" y1="43.5" x2="422.7" y2="43.5" stroke="#3a3a3a" stroke-width="1.2"/><circle cx="407.45" cy="39.80" r="1.08" fill="#111"/><circle cx="410.85" cy="39.80" r="1.08" fill="#111"/><line x1="395.6" y1="51.5" x2="409" y2="51.5" stroke="#3a3a3a" stroke-width="1.2"/><circle cx="397.20" cy="47.90" r="1.08" fill="#111"/><circle cx="400.60" cy="47.90" r="1.08" fill="#111"/><circle cx="404.00" cy="47.90" r="1.08" fill="#111"/><circle cx="407.40" cy="47.90" r="1.08" fill="#111"/><line x1="425" y1="63.5" x2="451.8" y2="63.5" stroke="#3a3a3a" stroke-width="1.2"/><circle cx="438.40" cy="59.70" r="1.08" fill="#111"/><line x1="52.5" y1="261.2" x2="52.5" y2="343.1" stroke="#000" stroke-width="1.2"/><line x1="51.6" y1="342.5" x2="125.6" y2="342.5" stroke="#000" stroke-width="1.2"/><line x1="49.0" y1="342.5" x2="52.2" y2="342.5" stroke="#000" stroke-width="1.2"/><text x="46.2" y="345.57952" font-size="9.44" text-anchor="end" font-weight="normal" fill="#000" stroke="#000" stroke-width="0.15" textLength="4.31" lengthAdjust="spacingAndGlyphs">0</text><line x1="49.0" y1="326.5" x2="52.2" y2="326.5" stroke="#000" stroke-width="1.2"/><text x="46.2" y="330.07952" font-size="9.44" text-anchor="end" font-weight="normal" fill="#000" stroke="#000" stroke-width="0.15" textLength="4.31" lengthAdjust="spacingAndGlyphs">1</text><line x1="49.0" y1="311.5" x2="52.2" y2="311.5" stroke="#000" stroke-width="1.2"/><text x="46.2" y="314.37952" font-size="9.44" text-anchor="end" font-weight="normal" fill="#000" stroke="#000" stroke-width="0.15" textLength="4.31" lengthAdjust="spacingAndGlyphs">2</text><line x1="49.0" y1="295.5" x2="52.2" y2="295.5" stroke="#000" stroke-width="1.2"/><text x="46.2" y="298.67952" font-size="9.44" text-anchor="end" font-weight="normal" fill="#000" stroke="#000" stroke-width="0.15" textLength="4.31" lengthAdjust="spacingAndGlyphs">3</text><line x1="49.0" y1="279.5" x2="52.2" y2="279.5" stroke="#000" stroke-width="1.2"/><text x="46.2" y="282.87952" font-size="9.44" text-anchor="end" font-weight="normal" fill="#000" stroke="#000" stroke-width="0.15" textLength="4.31" lengthAdjust="spacingAndGlyphs">4</text><line x1="49.0" y1="264.5" x2="52.2" y2="264.5" stroke="#000" stroke-width="1.2"/><text x="46.2" y="267.17952" font-size="9.44" text-anchor="end" font-weight="normal" fill="#000" stroke="#000" stroke-width="0.15" textLength="4.31" lengthAdjust="spacingAndGlyphs">5</text><line x1="61.5" y1="342.5" x2="61.5" y2="345.9" stroke="#000" stroke-width="1.2"/><line x1="74.5" y1="342.5" x2="74.5" y2="345.9" stroke="#000" stroke-width="1.2"/><line x1="88.5" y1="342.5" x2="88.5" y2="345.9" stroke="#000" stroke-width="1.2"/><line x1="102.5" y1="342.5" x2="102.5" y2="345.9" stroke="#000" stroke-width="1.2"/><line x1="116.5" y1="342.5" x2="116.5" y2="345.9" stroke="#000" stroke-width="1.2"/><text x="64.7" y="351.9" font-size="8.5" text-anchor="end" font-weight="normal" fill="#000" stroke="#000" stroke-width="0.15" transform="rotate(-45 64.7 351.9)">Na&#239;ve</text><text x="78.6" y="351.9" font-size="8.5" text-anchor="end" font-weight="normal" fill="#000" stroke="#000" stroke-width="0.15" transform="rotate(-45 78.6 351.9)">Vehicle</text><text x="92.3" y="351.9" font-size="8.5" text-anchor="end" font-weight="normal" fill="#000" stroke="#000" stroke-width="0.15" transform="rotate(-45 92.3 351.9)">DEX</text><text x="106.0" y="351.9" font-size="8.5" text-anchor="end" font-weight="normal" fill="#000" stroke="#000" stroke-width="0.15" transform="rotate(-45 106.0 351.9)">RUX</text><text x="119.89999999999999" y="351.9" font-size="8.5" text-anchor="end" font-weight="normal" fill="#000" stroke="#000" stroke-width="0.15" transform="rotate(-45 119.89999999999999 351.9)">DEX+RUX</text><text x="23.5" y="300.5" font-size="9" text-anchor="middle" fill="#000" stroke="#000" stroke-width="0.18" transform="rotate(-90 23.5 300.5)" textLength="102" lengthAdjust="spacingAndGlyphs">Number of CD44 high/CD62L</text><text x="35" y="301" font-size="9" text-anchor="middle" fill="#000" stroke="#000" stroke-width="0.18" transform="rotate(-90 35 301)" textLength="53" lengthAdjust="spacingAndGlyphs">low cells(&#215;10<tspan dy="-3.3" font-size="6">7</tspan><tspan dy="3.3">)</tspan></text><line x1="56.5" y1="339.5" x2="65.7" y2="339.5" stroke="#000" stroke-width="1.3"/><line x1="70.4" y1="300.5" x2="79.6" y2="300.5" stroke="#000" stroke-width="1.3"/><line x1="74.5" y1="287.4" x2="74.5" y2="312.7" stroke="#000" stroke-width="1.1"/><line x1="72.5" y1="287.5" x2="77.5" y2="287.5" stroke="#000" stroke-width="1.1"/><line x1="72.5" y1="312.5" x2="77.5" y2="312.5" stroke="#000" stroke-width="1.1"/><line x1="84.10000000000001" y1="313.5" x2="93.3" y2="313.5" stroke="#000" stroke-width="1.3"/><line x1="88.5" y1="310.5" x2="88.5" y2="316" stroke="#000" stroke-width="1.1"/><line x1="86.2" y1="310.5" x2="91.2" y2="310.5" stroke="#000" stroke-width="1.1"/><line x1="86.2" y1="316.5" x2="91.2" y2="316.5" stroke="#000" stroke-width="1.1"/><line x1="97.80000000000001" y1="320.5" x2="107.0" y2="320.5" stroke="#000" stroke-width="1.3"/><line x1="102.5" y1="317" x2="102.5" y2="325.5" stroke="#000" stroke-width="1.1"/><line x1="99.9" y1="316.5" x2="104.9" y2="316.5" stroke="#000" stroke-width="1.1"/><line x1="99.9" y1="325.5" x2="104.9" y2="325.5" stroke="#000" stroke-width="1.1"/><line x1="111.7" y1="332.5" x2="120.89999999999999" y2="332.5" stroke="#000" stroke-width="1.3"/><line x1="116.5" y1="328" x2="116.5" y2="336" stroke="#000" stroke-width="1.1"/><line x1="113.8" y1="328.5" x2="118.8" y2="328.5" stroke="#000" stroke-width="1.1"/><line x1="113.8" y1="336.5" x2="118.8" y2="336.5" stroke="#000" stroke-width="1.1"/><rect x="57.15" y="338.35" width="1.9" height="1.9" fill="#f2971f"/><rect x="60.15" y="338.35" width="1.9" height="1.9" fill="#f2971f"/><rect x="63.15" y="338.35" width="1.9" height="1.9" fill="#f2971f"/><rect x="74.05" y="274.85" width="1.9" height="1.9" fill="#c4122f"/><rect x="74.05" y="305.35" width="1.9" height="1.9" fill="#c4122f"/><rect x="74.05" y="317.95" width="1.9" height="1.9" fill="#c4122f"/><rect x="87.75" y="308.45" width="1.9" height="1.9" fill="#1d4a9b"/><rect x="86.25" y="311.05" width="1.9" height="1.9" fill="#1d4a9b"/><rect x="87.75" y="318.25" width="1.9" height="1.9" fill="#1d4a9b"/><rect x="101.45" y="311.55" width="1.9" height="1.9" fill="#5cb531"/><rect x="101.45" y="321.35" width="1.9" height="1.9" fill="#5cb531"/><rect x="101.45" y="331.05" width="1.9" height="1.9" fill="#5cb531"/><rect x="115.35" y="323.85" width="1.9" height="1.9" fill="#5b2784"/><rect x="115.35" y="331.65" width="1.9" height="1.9" fill="#5b2784"/><rect x="115.35" y="338.05" width="1.9" height="1.9" fill="#5b2784"/><line x1="59.8" y1="269.5" x2="75" y2="269.5" stroke="#3a3a3a" stroke-width="1.2"/><circle cx="65.70" cy="265.70" r="1.08" fill="#111"/><circle cx="69.10" cy="265.70" r="1.08" fill="#111"/><line x1="74.5" y1="258.5" x2="116.6" y2="258.5" stroke="#3a3a3a" stroke-width="1.2"/><circle cx="93.85" cy="254.60" r="1.08" fill="#111"/><circle cx="97.25" cy="254.60" r="1.08" fill="#111"/><line x1="186.5" y1="261.2" x2="186.5" y2="342.90000000000003" stroke="#000" stroke-width="1.2"/><line x1="185.70000000000002" y1="342.5" x2="260" y2="342.5" stroke="#000" stroke-width="1.2"/><line x1="183.10000000000002" y1="342.5" x2="186.3" y2="342.5" stroke="#000" stroke-width="1.2"/><text x="180.3" y="345.37952" font-size="9.44" text-anchor="end" font-weight="normal" fill="#000" stroke="#000" stroke-width="0.15" textLength="4.31" lengthAdjust="spacingAndGlyphs">0</text><line x1="183.10000000000002" y1="316.5" x2="186.3" y2="316.5" stroke="#000" stroke-width="1.2"/><text x="180.3" y="319.27952" font-size="9.44" text-anchor="end" font-weight="normal" fill="#000" stroke="#000" stroke-width="0.15" textLength="4.31" lengthAdjust="spacingAndGlyphs">2</text><line x1="183.10000000000002" y1="289.5" x2="186.3" y2="289.5" stroke="#000" stroke-width="1.2"/><text x="180.3" y="292.97952" font-size="9.44" text-anchor="end" font-weight="normal" fill="#000" stroke="#000" stroke-width="0.15" textLength="4.31" lengthAdjust="spacingAndGlyphs">4</text><line x1="183.10000000000002" y1="263.5" x2="186.3" y2="263.5" stroke="#000" stroke-width="1.2"/><text x="180.3" y="266.67952" font-size="9.44" text-anchor="end" font-weight="normal" fill="#000" stroke="#000" stroke-width="0.15" textLength="4.31" lengthAdjust="spacingAndGlyphs">6</text><line x1="195.5" y1="342.3" x2="195.5" y2="345.7" stroke="#000" stroke-width="1.2"/><line x1="209.5" y1="342.3" x2="209.5" y2="345.7" stroke="#000" stroke-width="1.2"/><line x1="223.5" y1="342.3" x2="223.5" y2="345.7" stroke="#000" stroke-width="1.2"/><line x1="236.5" y1="342.3" x2="236.5" y2="345.7" stroke="#000" stroke-width="1.2"/><line x1="250.5" y1="342.3" x2="250.5" y2="345.7" stroke="#000" stroke-width="1.2"/><text x="199.1" y="351.7" font-size="8.5" text-anchor="end" font-weight="normal" fill="#000" stroke="#000" stroke-width="0.15" transform="rotate(-45 199.1 351.7)">Na&#239;ve</text><text x="212.79999999999998" y="351.7" font-size="8.5" text-anchor="end" font-weight="normal" fill="#000" stroke="#000" stroke-width="0.15" transform="rotate(-45 212.79999999999998 351.7)">Vehicle</text><text x="226.7" y="351.7" font-size="8.5" text-anchor="end" font-weight="normal" fill="#000" stroke="#000" stroke-width="0.15" transform="rotate(-45 226.7 351.7)">DEX</text><text x="240.4" y="351.7" font-size="8.5" text-anchor="end" font-weight="normal" fill="#000" stroke="#000" stroke-width="0.15" transform="rotate(-45 240.4 351.7)">RUX</text><text x="253.79999999999998" y="351.7" font-size="8.5" text-anchor="end" font-weight="normal" fill="#000" stroke="#000" stroke-width="0.15" transform="rotate(-45 253.79999999999998 351.7)">DEX+RUX</text><text x="159.2" y="297" font-size="8.8" text-anchor="middle" fill="#000" stroke="#000" stroke-width="0.18" transform="rotate(-90 159.2 297)" textLength="79" lengthAdjust="spacingAndGlyphs">Number of CD28/ICOS DP</text><text x="169.8" y="300" font-size="8.8" text-anchor="middle" fill="#000" stroke="#000" stroke-width="0.18" transform="rotate(-90 169.8 300)" textLength="38.5" lengthAdjust="spacingAndGlyphs">cells(&#215;10<tspan dy="-3.3" font-size="6">6</tspan><tspan dy="3.3">)</tspan></text><line x1="190.9" y1="341.5" x2="200.1" y2="341.5" stroke="#000" stroke-width="1.3"/><line x1="204.6" y1="291.5" x2="213.79999999999998" y2="291.5" stroke="#000" stroke-width="1.3"/><line x1="209.5" y1="282.3" x2="209.5" y2="300.8" stroke="#000" stroke-width="1.1"/><line x1="206.7" y1="282.5" x2="211.7" y2="282.5" stroke="#000" stroke-width="1.1"/><line x1="206.7" y1="300.5" x2="211.7" y2="300.5" stroke="#000" stroke-width="1.1"/><line x1="218.5" y1="311.5" x2="227.7" y2="311.5" stroke="#000" stroke-width="1.3"/><line x1="223.5" y1="307.5" x2="223.5" y2="316" stroke="#000" stroke-width="1.1"/><line x1="220.6" y1="307.5" x2="225.6" y2="307.5" stroke="#000" stroke-width="1.1"/><line x1="220.6" y1="316.5" x2="225.6" y2="316.5" stroke="#000" stroke-width="1.1"/><line x1="232.20000000000002" y1="320.5" x2="241.4" y2="320.5" stroke="#000" stroke-width="1.3"/><line x1="236.5" y1="315.5" x2="236.5" y2="327" stroke="#000" stroke-width="1.1"/><line x1="234.3" y1="315.5" x2="239.3" y2="315.5" stroke="#000" stroke-width="1.1"/><line x1="234.3" y1="326.5" x2="239.3" y2="326.5" stroke="#000" stroke-width="1.1"/><line x1="245.6" y1="333.5" x2="254.79999999999998" y2="333.5" stroke="#000" stroke-width="1.3"/><line x1="250.5" y1="330.5" x2="250.5" y2="337" stroke="#000" stroke-width="1.1"/><line x1="247.7" y1="330.5" x2="252.7" y2="330.5" stroke="#000" stroke-width="1.1"/><line x1="247.7" y1="336.5" x2="252.7" y2="336.5" stroke="#000" stroke-width="1.1"/><rect x="191.05" y="340.55" width="1.9" height="1.9" fill="#f2971f"/><rect x="194.55" y="340.55" width="1.9" height="1.9" fill="#f2971f"/><rect x="198.05" y="340.55" width="1.9" height="1.9" fill="#f2971f"/><rect x="208.25" y="278.75" width="1.9" height="1.9" fill="#c4122f"/><rect x="208.25" y="282.55" width="1.9" height="1.9" fill="#c4122f"/><rect x="208.25" y="300.15" width="1.9" height="1.9" fill="#c4122f"/><rect x="208.25" y="309.65" width="1.9" height="1.9" fill="#c4122f"/><rect x="222.15" y="301.15" width="1.9" height="1.9" fill="#1d4a9b"/><rect x="222.15" y="310.45" width="1.9" height="1.9" fill="#1d4a9b"/><rect x="222.15" y="320.75" width="1.9" height="1.9" fill="#1d4a9b"/><rect x="235.85" y="304.55" width="1.9" height="1.9" fill="#5cb531"/><rect x="235.85" y="320.05" width="1.9" height="1.9" fill="#5cb531"/><rect x="235.85" y="332.95" width="1.9" height="1.9" fill="#5cb531"/><rect x="249.25" y="324.45" width="1.9" height="1.9" fill="#5b2784"/><rect x="247.25" y="336.25" width="1.9" height="1.9" fill="#5b2784"/><rect x="251.25" y="338.85" width="1.9" height="1.9" fill="#5b2784"/><line x1="193.4" y1="274.5" x2="209.7" y2="274.5" stroke="#3a3a3a" stroke-width="1.2"/><circle cx="199.85" cy="271.10" r="1.08" fill="#111"/><circle cx="203.25" cy="271.10" r="1.08" fill="#111"/><line x1="210.5" y1="274.5" x2="236.8" y2="274.5" stroke="#3a3a3a" stroke-width="1.2"/><circle cx="223.65" cy="271.10" r="1.08" fill="#111"/><line x1="210.5" y1="266.5" x2="251" y2="266.5" stroke="#3a3a3a" stroke-width="1.2"/><circle cx="229.05" cy="262.60" r="1.08" fill="#111"/><circle cx="232.45" cy="262.60" r="1.08" fill="#111"/><line x1="224.6" y1="296.5" x2="251" y2="296.5" stroke="#3a3a3a" stroke-width="1.2"/><circle cx="237.80" cy="292.80" r="1.08" fill="#111"/><line x1="316.5" y1="261.5" x2="316.5" y2="342.90000000000003" stroke="#000" stroke-width="1.2"/><line x1="315.7" y1="342.5" x2="389" y2="342.5" stroke="#000" stroke-width="1.2"/><line x1="313.1" y1="342.5" x2="316.3" y2="342.5" stroke="#000" stroke-width="1.2"/><text x="310.3" y="345.37952" font-size="9.44" text-anchor="end" font-weight="normal" fill="#000" stroke="#000" stroke-width="0.15" textLength="4.31" lengthAdjust="spacingAndGlyphs">0</text><line x1="313.1" y1="326.5" x2="316.3" y2="326.5" stroke="#000" stroke-width="1.2"/><text x="310.3" y="329.57952" font-size="9.44" text-anchor="end" font-weight="normal" fill="#000" stroke="#000" stroke-width="0.15" textLength="4.31" lengthAdjust="spacingAndGlyphs">2</text><line x1="313.1" y1="310.5" x2="316.3" y2="310.5" stroke="#000" stroke-width="1.2"/><text x="310.3" y="313.77952" font-size="9.44" text-anchor="end" font-weight="normal" fill="#000" stroke="#000" stroke-width="0.15" textLength="4.31" lengthAdjust="spacingAndGlyphs">4</text><line x1="313.1" y1="294.5" x2="316.3" y2="294.5" stroke="#000" stroke-width="1.2"/><text x="310.3" y="297.97952" font-size="9.44" text-anchor="end" font-weight="normal" fill="#000" stroke="#000" stroke-width="0.15" textLength="4.31" lengthAdjust="spacingAndGlyphs">6</text><line x1="313.1" y1="279.5" x2="316.3" y2="279.5" stroke="#000" stroke-width="1.2"/><text x="310.3" y="282.27952" font-size="9.44" text-anchor="end" font-weight="normal" fill="#000" stroke="#000" stroke-width="0.15" textLength="4.31" lengthAdjust="spacingAndGlyphs">8</text><line x1="313.1" y1="263.5" x2="316.3" y2="263.5" stroke="#000" stroke-width="1.2"/><text x="310.3" y="266.77952" font-size="9.44" text-anchor="end" font-weight="normal" fill="#000" stroke="#000" stroke-width="0.15" textLength="8.63" lengthAdjust="spacingAndGlyphs">10</text><line x1="326.5" y1="342.3" x2="326.5" y2="345.7" stroke="#000" stroke-width="1.2"/><line x1="339.5" y1="342.3" x2="339.5" y2="345.7" stroke="#000" stroke-width="1.2"/><line x1="353.5" y1="342.3" x2="353.5" y2="345.7" stroke="#000" stroke-width="1.2"/><line x1="366.5" y1="342.3" x2="366.5" y2="345.7" stroke="#000" stroke-width="1.2"/><line x1="380.5" y1="342.3" x2="380.5" y2="345.7" stroke="#000" stroke-width="1.2"/><text x="329.6" y="351.7" font-size="8.5" text-anchor="end" font-weight="normal" fill="#000" stroke="#000" stroke-width="0.15" transform="rotate(-45 329.6 351.7)">Na&#239;ve</text><text x="343.3" y="351.7" font-size="8.5" text-anchor="end" font-weight="normal" fill="#000" stroke="#000" stroke-width="0.15" transform="rotate(-45 343.3 351.7)">Vehicle</text><text x="357.0" y="351.7" font-size="8.5" text-anchor="end" font-weight="normal" fill="#000" stroke="#000" stroke-width="0.15" transform="rotate(-45 357.0 351.7)">DEX</text><text x="370.40000000000003" y="351.7" font-size="8.5" text-anchor="end" font-weight="normal" fill="#000" stroke="#000" stroke-width="0.15" transform="rotate(-45 370.40000000000003 351.7)">RUX</text><text x="384.1" y="351.7" font-size="8.5" text-anchor="end" font-weight="normal" fill="#000" stroke="#000" stroke-width="0.15" transform="rotate(-45 384.1 351.7)">DEX+RUX</text><text x="296.5" y="300.6" font-size="9" text-anchor="middle" fill="#000" stroke="#000" stroke-width="0.18" transform="rotate(-90 296.5 300.6)" textLength="108.8" lengthAdjust="spacingAndGlyphs">Number of CD25+ cells (&#215;10<tspan dy="-3.3" font-size="6">7</tspan><tspan dy="3.3">)</tspan></text><line x1="321.4" y1="341.5" x2="330.6" y2="341.5" stroke="#000" stroke-width="1.3"/><line x1="335.09999999999997" y1="308.5" x2="344.3" y2="308.5" stroke="#000" stroke-width="1.3"/><line x1="339.5" y1="293.9" x2="339.5" y2="323.5" stroke="#000" stroke-width="1.1"/><line x1="337.2" y1="293.5" x2="342.2" y2="293.5" stroke="#000" stroke-width="1.1"/><line x1="337.2" y1="323.5" x2="342.2" y2="323.5" stroke="#000" stroke-width="1.1"/><line x1="348.79999999999995" y1="334.5" x2="358.0" y2="334.5" stroke="#000" stroke-width="1.3"/><line x1="353.5" y1="333.5" x2="353.5" y2="335.5" stroke="#000" stroke-width="1.1"/><line x1="350.9" y1="333.5" x2="355.9" y2="333.5" stroke="#000" stroke-width="1.1"/><line x1="350.9" y1="335.5" x2="355.9" y2="335.5" stroke="#000" stroke-width="1.1"/><line x1="362.2" y1="338.5" x2="371.40000000000003" y2="338.5" stroke="#000" stroke-width="1.3"/><line x1="366.5" y1="338.3" x2="366.5" y2="339.7" stroke="#000" stroke-width="1.1"/><line x1="364.3" y1="338.5" x2="369.3" y2="338.5" stroke="#000" stroke-width="1.1"/><line x1="364.3" y1="339.5" x2="369.3" y2="339.5" stroke="#000" stroke-width="1.1"/><line x1="375.9" y1="340.5" x2="385.1" y2="340.5" stroke="#000" stroke-width="1.3"/><rect x="321.55" y="340.55" width="1.9" height="1.9" fill="#f2971f"/><rect x="325.05" y="340.55" width="1.9" height="1.9" fill="#f2971f"/><rect x="328.55" y="340.55" width="1.9" height="1.9" fill="#f2971f"/><rect x="338.75" y="279.55" width="1.9" height="1.9" fill="#c4122f"/><rect x="338.75" y="314.35" width="1.9" height="1.9" fill="#c4122f"/><rect x="338.75" y="329.05" width="1.9" height="1.9" fill="#c4122f"/><rect x="350.45" y="332.05" width="1.9" height="1.9" fill="#1d4a9b"/><rect x="353.45" y="333.05" width="1.9" height="1.9" fill="#1d4a9b"/><rect x="355.45" y="334.55" width="1.9" height="1.9" fill="#1d4a9b"/><rect x="352.45" y="335.55" width="1.9" height="1.9" fill="#1d4a9b"/><rect x="363.85" y="338.05" width="1.9" height="1.9" fill="#5cb531"/><rect x="365.85" y="337.55" width="1.9" height="1.9" fill="#5cb531"/><rect x="367.85" y="338.55" width="1.9" height="1.9" fill="#5cb531"/><rect x="377.55" y="339.35" width="1.9" height="1.9" fill="#5b2784"/><rect x="379.55" y="339.05" width="1.9" height="1.9" fill="#5b2784"/><rect x="381.55" y="339.55" width="1.9" height="1.9" fill="#5b2784"/><line x1="324.2" y1="274.5" x2="339.7" y2="274.5" stroke="#3a3a3a" stroke-width="1.2"/><circle cx="331.95" cy="270.80" r="1.08" fill="#111"/><line x1="341.5" y1="274.5" x2="357" y2="274.5" stroke="#3a3a3a" stroke-width="1.2"/><circle cx="349.25" cy="270.80" r="1.08" fill="#111"/><line x1="341.5" y1="266.5" x2="367.3" y2="266.5" stroke="#3a3a3a" stroke-width="1.2"/><circle cx="352.70" cy="263.10" r="1.08" fill="#111"/><circle cx="356.10" cy="263.10" r="1.08" fill="#111"/><line x1="341.5" y1="258.5" x2="381.7" y2="258.5" stroke="#3a3a3a" stroke-width="1.2"/><circle cx="359.90" cy="255.30" r="1.08" fill="#111"/><circle cx="363.30" cy="255.30" r="1.08" fill="#111"/><line x1="439.5" y1="261.5" x2="439.5" y2="342.90000000000003" stroke="#000" stroke-width="1.2"/><line x1="439.09999999999997" y1="342.5" x2="512" y2="342.5" stroke="#000" stroke-width="1.2"/><line x1="436.5" y1="342.5" x2="439.7" y2="342.5" stroke="#000" stroke-width="1.2"/><text x="433.3" y="345.37952" font-size="9.44" text-anchor="end" font-weight="normal" fill="#000" stroke="#000" stroke-width="0.15" textLength="4.31" lengthAdjust="spacingAndGlyphs">0</text><line x1="436.5" y1="316.5" x2="439.7" y2="316.5" stroke="#000" stroke-width="1.2"/><text x="433.3" y="319.27952" font-size="9.44" text-anchor="end" font-weight="normal" fill="#000" stroke="#000" stroke-width="0.15" textLength="4.31" lengthAdjust="spacingAndGlyphs">1</text><line x1="436.5" y1="290.5" x2="439.7" y2="290.5" stroke="#000" stroke-width="1.2"/><text x="433.3" y="293.07952" font-size="9.44" text-anchor="end" font-weight="normal" fill="#000" stroke="#000" stroke-width="0.15" textLength="4.31" lengthAdjust="spacingAndGlyphs">2</text><line x1="436.5" y1="263.5" x2="439.7" y2="263.5" stroke="#000" stroke-width="1.2"/><text x="433.3" y="266.77952" font-size="9.44" text-anchor="end" font-weight="normal" fill="#000" stroke="#000" stroke-width="0.15" textLength="4.31" lengthAdjust="spacingAndGlyphs">3</text><line x1="448.5" y1="342.3" x2="448.5" y2="345.7" stroke="#000" stroke-width="1.2"/><line x1="462.5" y1="342.3" x2="462.5" y2="345.7" stroke="#000" stroke-width="1.2"/><line x1="475.5" y1="342.3" x2="475.5" y2="345.7" stroke="#000" stroke-width="1.2"/><line x1="489.5" y1="342.3" x2="489.5" y2="345.7" stroke="#000" stroke-width="1.2"/><line x1="503.5" y1="342.3" x2="503.5" y2="345.7" stroke="#000" stroke-width="1.2"/><text x="452.0" y="351.7" font-size="8.5" text-anchor="end" font-weight="normal" fill="#000" stroke="#000" stroke-width="0.15" transform="rotate(-45 452.0 351.7)">Na&#239;ve</text><text x="465.70000000000005" y="351.7" font-size="8.5" text-anchor="end" font-weight="normal" fill="#000" stroke="#000" stroke-width="0.15" transform="rotate(-45 465.70000000000005 351.7)">Vehicle</text><text x="479.40000000000003" y="351.7" font-size="8.5" text-anchor="end" font-weight="normal" fill="#000" stroke="#000" stroke-width="0.15" transform="rotate(-45 479.40000000000003 351.7)">DEX</text><text x="493.1" y="351.7" font-size="8.5" text-anchor="end" font-weight="normal" fill="#000" stroke="#000" stroke-width="0.15" transform="rotate(-45 493.1 351.7)">RUX</text><text x="507.0" y="351.7" font-size="8.5" text-anchor="end" font-weight="normal" fill="#000" stroke="#000" stroke-width="0.15" transform="rotate(-45 507.0 351.7)">DEX+RUX</text><text x="423.3" y="301.9" font-size="8.7" text-anchor="middle" fill="#000" stroke="#000" stroke-width="0.18" transform="rotate(-90 423.3 301.9)" textLength="75.8" lengthAdjust="spacingAndGlyphs">Soluble CD25 (ng/mL)</text><line x1="443.79999999999995" y1="325.5" x2="453.0" y2="325.5" stroke="#000" stroke-width="1.3"/><line x1="448.5" y1="321.4" x2="448.5" y2="328.8" stroke="#000" stroke-width="1.1"/><line x1="445.9" y1="321.5" x2="450.9" y2="321.5" stroke="#000" stroke-width="1.1"/><line x1="445.9" y1="328.5" x2="450.9" y2="328.5" stroke="#000" stroke-width="1.1"/><line x1="457.5" y1="299.5" x2="466.70000000000005" y2="299.5" stroke="#000" stroke-width="1.3"/><line x1="462.5" y1="292.9" x2="462.5" y2="305.9" stroke="#000" stroke-width="1.1"/><line x1="459.6" y1="292.5" x2="464.6" y2="292.5" stroke="#000" stroke-width="1.1"/><line x1="459.6" y1="305.5" x2="464.6" y2="305.5" stroke="#000" stroke-width="1.1"/><line x1="471.2" y1="319.5" x2="480.40000000000003" y2="319.5" stroke="#000" stroke-width="1.3"/><line x1="475.5" y1="313.6" x2="475.5" y2="324.9" stroke="#000" stroke-width="1.1"/><line x1="473.3" y1="313.5" x2="478.3" y2="313.5" stroke="#000" stroke-width="1.1"/><line x1="473.3" y1="324.5" x2="478.3" y2="324.5" stroke="#000" stroke-width="1.1"/><line x1="484.9" y1="330.5" x2="494.1" y2="330.5" stroke="#000" stroke-width="1.3"/><line x1="489.5" y1="327.2" x2="489.5" y2="332.6" stroke="#000" stroke-width="1.1"/><line x1="487.0" y1="327.5" x2="492.0" y2="327.5" stroke="#000" stroke-width="1.1"/><line x1="487.0" y1="332.5" x2="492.0" y2="332.5" stroke="#000" stroke-width="1.1"/><line x1="498.79999999999995" y1="338.5" x2="508.0" y2="338.5" stroke="#000" stroke-width="1.3"/><line x1="503.5" y1="337" x2="503.5" y2="339.6" stroke="#000" stroke-width="1.1"/><line x1="500.9" y1="336.5" x2="505.9" y2="336.5" stroke="#000" stroke-width="1.1"/><line x1="500.9" y1="339.5" x2="505.9" y2="339.5" stroke="#000" stroke-width="1.1"/><rect x="447.45" y="310.35" width="1.9" height="1.9" fill="#f2971f"/><rect x="447.85" y="318.05" width="1.9" height="1.9" fill="#f2971f"/><rect x="441.45" y="321.05" width="1.9" height="1.9" fill="#f2971f"/><rect x="447.45" y="327.25" width="1.9" height="1.9" fill="#f2971f"/><rect x="440.95" y="332.05" width="1.9" height="1.9" fill="#f2971f"/><rect x="449.85" y="335.35" width="1.9" height="1.9" fill="#f2971f"/><rect x="461.15" y="277.75" width="1.9" height="1.9" fill="#c4122f"/><rect x="461.15" y="282.25" width="1.9" height="1.9" fill="#c4122f"/><rect x="461.15" y="284.95" width="1.9" height="1.9" fill="#c4122f"/><rect x="461.15" y="304.55" width="1.9" height="1.9" fill="#c4122f"/><rect x="457.85" y="307.45" width="1.9" height="1.9" fill="#c4122f"/><rect x="464.85" y="307.45" width="1.9" height="1.9" fill="#c4122f"/><rect x="461.15" y="325.85" width="1.9" height="1.9" fill="#c4122f"/><rect x="474.85" y="283.55" width="1.9" height="1.9" fill="#1d4a9b"/><rect x="474.85" y="311.75" width="1.9" height="1.9" fill="#1d4a9b"/><rect x="474.85" y="316.55" width="1.9" height="1.9" fill="#1d4a9b"/><rect x="471.95" y="326.25" width="1.9" height="1.9" fill="#1d4a9b"/><rect x="474.85" y="326.25" width="1.9" height="1.9" fill="#1d4a9b"/><rect x="478.35" y="326.25" width="1.9" height="1.9" fill="#1d4a9b"/><rect x="474.85" y="330.75" width="1.9" height="1.9" fill="#1d4a9b"/><rect x="488.55" y="315.25" width="1.9" height="1.9" fill="#5cb531"/><rect x="488.55" y="321.05" width="1.9" height="1.9" fill="#5cb531"/><rect x="488.55" y="327.25" width="1.9" height="1.9" fill="#5cb531"/><rect x="484.15" y="333.05" width="1.9" height="1.9" fill="#5cb531"/><rect x="491.15" y="333.05" width="1.9" height="1.9" fill="#5cb531"/><rect x="483.15" y="340.75" width="1.9" height="1.9" fill="#5cb531"/><rect x="493.15" y="340.75" width="1.9" height="1.9" fill="#5cb531"/><rect x="502.45" y="329.55" width="1.9" height="1.9" fill="#5b2784"/><rect x="499.45" y="336.05" width="1.9" height="1.9" fill="#5b2784"/><rect x="501.45" y="337.05" width="1.9" height="1.9" fill="#5b2784"/><rect x="503.95" y="336.55" width="1.9" height="1.9" fill="#5b2784"/><rect x="505.95" y="338.05" width="1.9" height="1.9" fill="#5b2784"/><rect x="500.45" y="339.05" width="1.9" height="1.9" fill="#5b2784"/><rect x="503.45" y="339.35" width="1.9" height="1.9" fill="#5b2784"/><line x1="445.8" y1="272.5" x2="460.8" y2="272.5" stroke="#3a3a3a" stroke-width="1.2"/><circle cx="451.60" cy="268.80" r="1.08" fill="#111"/><circle cx="455.00" cy="268.80" r="1.08" fill="#111"/><line x1="462.1" y1="272.5" x2="478.4" y2="272.5" stroke="#3a3a3a" stroke-width="1.2"/><circle cx="470.25" cy="268.80" r="1.08" fill="#111"/><line x1="476.3" y1="266.5" x2="503.4" y2="266.5" stroke="#3a3a3a" stroke-width="1.2"/><circle cx="489.85" cy="262.60" r="1.08" fill="#111"/><line x1="462.1" y1="257.5" x2="489.7" y2="257.5" stroke="#3a3a3a" stroke-width="1.2"/><circle cx="472.50" cy="253.50" r="1.08" fill="#111"/><circle cx="475.90" cy="253.50" r="1.08" fill="#111"/><circle cx="479.30" cy="253.50" r="1.08" fill="#111"/><line x1="462.7" y1="248.5" x2="503.2" y2="248.5" stroke="#3a3a3a" stroke-width="1.2"/><circle cx="477.85" cy="244.40" r="1.08" fill="#111"/><circle cx="481.25" cy="244.40" r="1.08" fill="#111"/><circle cx="484.65" cy="244.40" r="1.08" fill="#111"/><circle cx="488.05" cy="244.40" r="1.08" fill="#111"/><text transform="translate(6.68 16.8) scale(1.03 1)" font-size="12.4" font-weight="bold" fill="#000" stroke="#000" stroke-width="0.3">A</text><text transform="translate(138.19 16.8) scale(0.86 1)" font-size="12.4" font-weight="bold" fill="#000" stroke="#000" stroke-width="0.3">B</text><text transform="translate(7.23 238.7) scale(0.92 1)" font-size="12.4" font-weight="bold" fill="#000" stroke="#000" stroke-width="0.3">C</text><text transform="translate(141.07 239.0) scale(1.0 1)" font-size="12.4" font-weight="bold" fill="#000" stroke="#000" stroke-width="0.3">D</text><text transform="translate(276.26 238.8) scale(0.89 1)" font-size="12.4" font-weight="bold" fill="#000" stroke="#000" stroke-width="0.3">E</text><text transform="translate(406.60 238.9) scale(0.97 1)" font-size="12.4" font-weight="bold" fill="#000" stroke="#000" stroke-width="0.3">F</text><rect x="0" y="0" width="1.2" height="387" fill="#000"/><rect x="0" y="0" width="520" height="1.2" fill="#000"/><rect x="518.3" y="0" width="1.7" height="387" fill="#000"/><rect x="0" y="385.2" width="520" height="1.8" fill="#000"/></svg></body></html>
